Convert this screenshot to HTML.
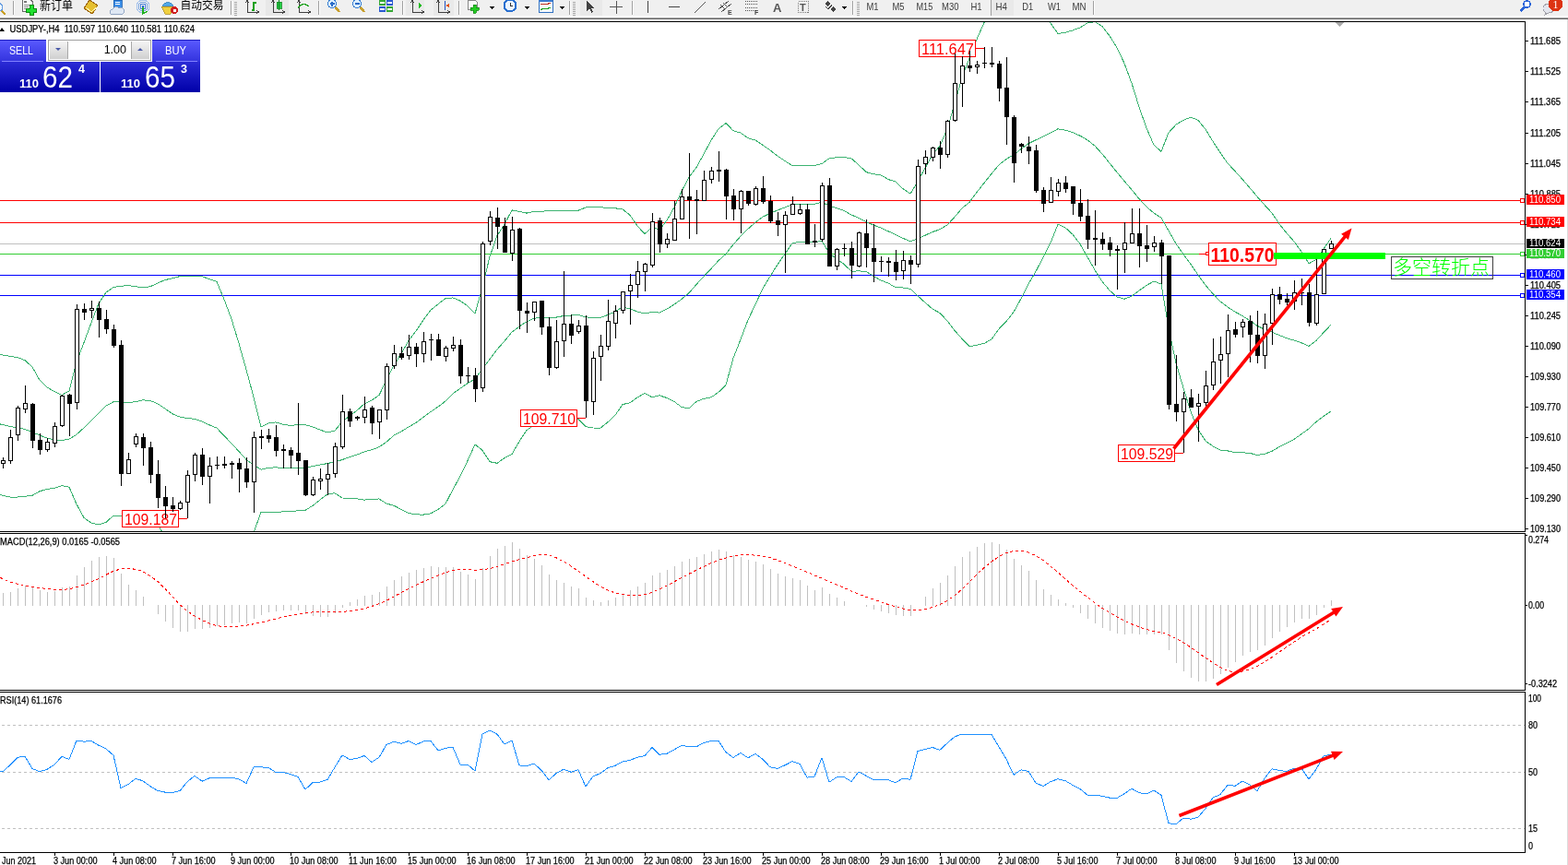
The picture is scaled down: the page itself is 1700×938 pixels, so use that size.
<!DOCTYPE html>
<html><head><meta charset="utf-8"><title>USDJPY-,H4</title>
<style>html,body{margin:0;padding:0;background:#fff;} text.s{stroke:#000;stroke-width:0.25px;} body{width:1700px;height:938px;overflow:hidden;position:relative;}</style>
</head><body>
<svg width="1700" height="938" viewBox="0 0 1700 938" style="position:absolute;left:0;top:0">
<defs><linearGradient id="gTop" x1="0" y1="0" x2="0" y2="1"><stop offset="0" stop-color="#5a5aff"/><stop offset="1" stop-color="#3333dd"/></linearGradient><linearGradient id="gBot" x1="0" y1="0" x2="0" y2="1"><stop offset="0" stop-color="#2b2bd6"/><stop offset="1" stop-color="#0000a8"/></linearGradient><linearGradient id="gBtn" x1="0" y1="0" x2="0" y2="1"><stop offset="0" stop-color="#f4f4f4"/><stop offset="0.5" stop-color="#e2e2e2"/><stop offset="1" stop-color="#cfcfcf"/></linearGradient><clipPath id="cMain"><rect x="0" y="24" width="1653" height="552"/></clipPath><clipPath id="cMacd"><rect x="0" y="579" width="1653" height="169"/></clipPath><clipPath id="cRsi"><rect x="0" y="751" width="1653" height="173"/></clipPath></defs>
<g shape-rendering="crispEdges">
<rect x="0" y="0" width="1700" height="938" fill="#ffffff"/>
<rect x="0" y="0" width="1700" height="19" fill="#f0f0f0"/>
<rect x="0" y="17" width="1700" height="2" fill="#fdfdfd"/>
<rect x="0" y="19" width="1700" height="1" fill="#a4a4a4"/>
<rect x="0" y="20" width="1700" height="1" fill="#676767"/>
<line x1="2" y1="12" x2="6" y2="16" stroke="#c9a028" stroke-width="2.6"/>
<circle cx="-1.5" cy="8" r="4.3" fill="#eef8ff" stroke="#6a9ee0" stroke-width="1.3"/>
<rect x="14" y="1" width="1" height="15" fill="#a0a0a0"/>
<rect x="15" y="1" width="1" height="15" fill="#ffffff"/>
<path d="M24.5,-1 L32.5,-1 L35.5,2 L35.5,12.5 L25.5,12.5 Q24.5,12.5 24.5,11.5 Z" fill="#fdfdfd" stroke="#6a6a6a" stroke-width="1"/>
<rect x="26" y="1" width="3" height="2" fill="#777"/><rect x="26" y="5" width="6" height="1" fill="#888"/><rect x="26" y="7" width="5" height="1" fill="#888"/><rect x="26" y="9" width="2" height="1" fill="#888"/>
<path d="M32.5,5.5 h3.5 v4 h3.5 v3.5 h-3.5 v3.5 h-3.5 v-3.5 h-4 v-3.5 h4 z" fill="#20e030" stroke="#0a8a10" stroke-width="1"/>
<text x="43" y="9.5" font-size="13" font-family='"Liberation Sans", "Noto Sans CJK SC", sans-serif' fill="#000" textLength="36" lengthAdjust="spacingAndGlyphs">新订单</text>
<path d="M91,9 L97,0 L106,6 L100,15 Z" fill="#e6c030" stroke="#a06a10" stroke-width="1"/>
<path d="M93,8 L99,13 L106,7" fill="none" stroke="#fff2b0" stroke-width="1"/>
<rect x="123" y="0" width="9" height="8" fill="#3a8ee8" stroke="#1a5fb0" stroke-width="0.8"/>
<rect x="125" y="2" width="5" height="1" fill="#fff"/><rect x="125" y="4" width="5" height="1" fill="#fff"/>
<path d="M120,15 a3,3 0 0 1 2,-5 a4,4 0 0 1 7,-1 a3,3 0 0 1 5,3 a2,2 0 0 1 -1,3 Z" fill="#dfe8f4" stroke="#8aa0c0" stroke-width="0.9"/>
<circle cx="155" cy="7" r="7" fill="none" stroke="#a8c4ec" stroke-width="1"/>
<circle cx="155" cy="7" r="5" fill="none" stroke="#7aa4e0" stroke-width="1"/>
<circle cx="155" cy="7" r="3" fill="none" stroke="#4a80d8" stroke-width="1"/>
<circle cx="155" cy="7" r="1.5" fill="#2060d0"/>
<path d="M155,8 L155,15 L160,12" fill="none" stroke="#20b020" stroke-width="1.3"/>
<path d="M176,6 Q182,-1 188,6 Z" fill="#50a8e8" stroke="#2a7ab8" stroke-width="0.8"/>
<path d="M175,7 L189,7 L185,15 L179,15 Z" fill="#f0d040" stroke="#b09020" stroke-width="0.8"/>
<circle cx="189" cy="11" r="4" fill="#d02020"/><rect x="187.5" y="9.5" width="3" height="3" fill="#fff"/>
<text x="195.5" y="10" font-size="12.5" font-family='"Liberation Sans", "Noto Sans CJK SC", sans-serif' fill="#000" textLength="47" lengthAdjust="spacingAndGlyphs">自动交易</text>
<rect x="250" y="1" width="1" height="15" fill="#a0a0a0"/>
<rect x="251" y="1" width="1" height="15" fill="#ffffff"/>
<rect x="254" y="2" width="3" height="1" fill="#a8a8a8"/>
<rect x="254" y="4" width="3" height="1" fill="#a8a8a8"/>
<rect x="254" y="6" width="3" height="1" fill="#a8a8a8"/>
<rect x="254" y="8" width="3" height="1" fill="#a8a8a8"/>
<rect x="254" y="10" width="3" height="1" fill="#a8a8a8"/>
<rect x="254" y="12" width="3" height="1" fill="#a8a8a8"/>
<rect x="254" y="14" width="3" height="1" fill="#a8a8a8"/>
<rect x="254" y="16" width="3" height="1" fill="#a8a8a8"/>
<path d="M268,1 L268,13 L280,13" fill="none" stroke="#404040" stroke-width="1"/>
<path d="M266,3 L268,0.5 L270,3 M278,11 L280.5,13 L278,15" fill="none" stroke="#404040" stroke-width="1"/>
<path d="M273,11 L275,11 L275,3 L278,3" fill="none" stroke="#18a018" stroke-width="1.3"/>
<rect x="288" y="0" width="25" height="17" fill="#e8e8e8"/>
<path d="M296,1 L296,13 L308,13" fill="none" stroke="#404040" stroke-width="1"/>
<path d="M294,3 L296,0.5 L298,3 M306,11 L308.5,13 L306,15" fill="none" stroke="#404040" stroke-width="1"/>
<rect x="300" y="2" width="5" height="7" fill="#22cc44" stroke="#118822" stroke-width="0.8"/><line x1="302.5" y1="0" x2="302.5" y2="11" stroke="#118822"/>
<path d="M324,1 L324,13 L336,13" fill="none" stroke="#404040" stroke-width="1"/>
<path d="M322,3 L324,0.5 L326,3 M334,11 L336.5,13 L334,15" fill="none" stroke="#404040" stroke-width="1"/>
<path d="M323,9 Q328,1 335,7" fill="none" stroke="#18a018" stroke-width="1.2"/>
<rect x="345" y="1" width="1" height="15" fill="#a0a0a0"/>
<rect x="346" y="1" width="1" height="15" fill="#ffffff"/>
<line x1="363" y1="7" x2="368" y2="13" stroke="#c8a030" stroke-width="2.5"/>
<circle cx="360" cy="4" r="4.5" fill="#dbeeff" stroke="#3c7fd0" stroke-width="1.2"/>
<rect x="357.5" y="3.3" width="5" height="1.4" fill="#2a6cc8"/>
<rect x="359.3" y="1.5" width="1.4" height="5" fill="#2a6cc8"/>
<line x1="390" y1="7" x2="395" y2="13" stroke="#c8a030" stroke-width="2.5"/>
<circle cx="387" cy="4" r="4.5" fill="#dbeeff" stroke="#3c7fd0" stroke-width="1.2"/>
<rect x="384.5" y="3.3" width="5" height="1.4" fill="#2a6cc8"/>
<rect x="411" y="0" width="7" height="6" fill="#36a836"/>
<rect x="412" y="2" width="5" height="2" fill="#ffffff"/>
<rect x="419" y="0" width="7" height="6" fill="#2a5ad0"/>
<rect x="420" y="2" width="5" height="2" fill="#ffffff"/>
<rect x="411" y="7" width="7" height="6" fill="#2a5ad0"/>
<rect x="412" y="9" width="5" height="2" fill="#ffffff"/>
<rect x="419" y="7" width="7" height="6" fill="#36a836"/>
<rect x="420" y="9" width="5" height="2" fill="#ffffff"/>
<rect x="436" y="1" width="1" height="15" fill="#a0a0a0"/>
<rect x="437" y="1" width="1" height="15" fill="#ffffff"/>
<rect x="440" y="0" width="20" height="17" fill="#e9e9e9"/>
<path d="M447,1 L447,13 L459,13" fill="none" stroke="#404040" stroke-width="1"/>
<path d="M445,3 L447,0.5 L449,3 M457,11 L459.5,13 L457,15" fill="none" stroke="#404040" stroke-width="1"/>
<polygon points="454,3 454,9 458,6" fill="#22bb22"/>
<rect x="470" y="0" width="22" height="17" fill="#e9e9e9"/>
<path d="M475,1 L475,13 L487,13" fill="none" stroke="#404040" stroke-width="1"/>
<path d="M473,3 L475,0.5 L477,3 M485,11 L487.5,13 L485,15" fill="none" stroke="#404040" stroke-width="1"/>
<line x1="482" y1="1" x2="482" y2="11" stroke="#2050c0"/><polygon points="483,6 487,4 487,8" fill="#e05010"/>
<rect x="497" y="1" width="1" height="15" fill="#a0a0a0"/>
<rect x="498" y="1" width="1" height="15" fill="#ffffff"/>
<path d="M507,0 L515,0 L517,2 L517,10 L507,10 Z" fill="#fafafa" stroke="#888" stroke-width="1"/>
<path d="M513,5 h3 v3 h3 v3 h-3 v3 h-3 v-3 h-3 v-3 h3 z" fill="#22cc22" stroke="#138a13" stroke-width="0.8"/>
<polygon points="530,7 536,7 533,10" fill="#000"/>
<circle cx="553" cy="6" r="6.5" fill="#eaf4ff" stroke="#2a70d0" stroke-width="2"/>
<path d="M553,2.5 L553,6 L556,6" fill="none" stroke="#333" stroke-width="1"/>
<polygon points="568,7 574,7 571,10" fill="#000"/>
<rect x="584" y="0" width="15" height="13" fill="#f6faff" stroke="#3070c0" stroke-width="1"/>
<rect x="584" y="0" width="15" height="2" fill="#3a7ad0"/>
<path d="M586,5 L589,4 L592,5 L597,3" fill="none" stroke="#c03020" stroke-width="1"/><path d="M586,11 L589,9 L592,10 L597,8" fill="none" stroke="#20a020" stroke-width="1"/>
<polygon points="606,7 612,7 609,10" fill="#000"/>
<rect x="617" y="1" width="1" height="15" fill="#a0a0a0"/>
<rect x="618" y="1" width="1" height="15" fill="#ffffff"/>
<rect x="621" y="2" width="3" height="1" fill="#a8a8a8"/>
<rect x="621" y="4" width="3" height="1" fill="#a8a8a8"/>
<rect x="621" y="6" width="3" height="1" fill="#a8a8a8"/>
<rect x="621" y="8" width="3" height="1" fill="#a8a8a8"/>
<rect x="621" y="10" width="3" height="1" fill="#a8a8a8"/>
<rect x="621" y="12" width="3" height="1" fill="#a8a8a8"/>
<rect x="621" y="14" width="3" height="1" fill="#a8a8a8"/>
<rect x="621" y="16" width="3" height="1" fill="#a8a8a8"/>
<rect x="629" y="0" width="24" height="17" fill="#e9e9e9"/>
<path d="M636,1 L636,12 L639,9.5 L641.5,14 L643,13 L641,8.5 L644.5,8.5 Z" fill="#404040"/>
<path d="M668,1 L668,15 M661,7.5 L675,7.5" stroke="#555" stroke-width="1"/>
<rect x="685" y="1" width="1" height="15" fill="#a0a0a0"/>
<rect x="686" y="1" width="1" height="15" fill="#ffffff"/>
<line x1="702.5" y1="1" x2="702.5" y2="14" stroke="#444"/>
<line x1="725" y1="7.5" x2="737" y2="7.5" stroke="#444"/>
<line x1="753" y1="14" x2="765" y2="2" stroke="#555"/>
<path d="M779,10 L790,1 M782,13 L793,4 M781,5 L786,10 M784,3 L789,8" stroke="#555" stroke-width="1"/>
<text x="789" y="16" font-size="7" font-weight="bold" font-family='"Liberation Sans", "Noto Sans CJK SC", sans-serif' fill="#444">E</text>
<line x1="808" y1="1.5" x2="821" y2="1.5" stroke="#555" stroke-dasharray="1,1"/>
<line x1="808" y1="4.5" x2="821" y2="4.5" stroke="#555" stroke-dasharray="1,1"/>
<line x1="808" y1="8.5" x2="821" y2="8.5" stroke="#555" stroke-dasharray="1,1"/>
<line x1="808" y1="11.5" x2="821" y2="11.5" stroke="#555" stroke-dasharray="1,1"/>
<text x="818" y="16" font-size="7" font-weight="bold" font-family='"Liberation Sans", "Noto Sans CJK SC", sans-serif' fill="#444">F</text>
<text x="838" y="13" font-size="13" font-weight="bold" font-family='"Liberation Sans", "Noto Sans CJK SC", sans-serif' fill="#555">A</text>
<rect x="865.5" y="1.5" width="11" height="12" fill="none" stroke="#777" stroke-dasharray="1,1"/>
<text x="867" y="12" font-size="11" font-weight="bold" font-family='"Liberation Sans", "Noto Sans CJK SC", sans-serif' fill="#555">T</text>
<path d="M894,4 L897,1 L900,4 L897,7 Z M900,10 L903,7 L906,10 L903,13 Z" fill="#444"/><path d="M895,7 L898,10 L902,5" fill="none" stroke="#444" stroke-width="1.3"/>
<polygon points="912,7 918,7 915,10" fill="#000"/>
<rect x="924" y="1" width="1" height="15" fill="#a0a0a0"/>
<rect x="925" y="1" width="1" height="15" fill="#ffffff"/>
<rect x="929" y="2" width="3" height="1" fill="#a8a8a8"/>
<rect x="929" y="4" width="3" height="1" fill="#a8a8a8"/>
<rect x="929" y="6" width="3" height="1" fill="#a8a8a8"/>
<rect x="929" y="8" width="3" height="1" fill="#a8a8a8"/>
<rect x="929" y="10" width="3" height="1" fill="#a8a8a8"/>
<rect x="929" y="12" width="3" height="1" fill="#a8a8a8"/>
<rect x="929" y="14" width="3" height="1" fill="#a8a8a8"/>
<rect x="929" y="16" width="3" height="1" fill="#a8a8a8"/>
<rect x="1074" y="0" width="1" height="17" fill="#a0a0a0"/>
<rect x="1075" y="0" width="24" height="17" fill="#e9e9e9"/>
<text x="939.5" y="11" font-size="11" font-family='"Liberation Sans", "Noto Sans CJK SC", sans-serif' fill="#3a3a3a" textLength="13" lengthAdjust="spacingAndGlyphs">M1</text>
<text x="967.5" y="11" font-size="11" font-family='"Liberation Sans", "Noto Sans CJK SC", sans-serif' fill="#3a3a3a" textLength="13" lengthAdjust="spacingAndGlyphs">M5</text>
<text x="993.5" y="11" font-size="11" font-family='"Liberation Sans", "Noto Sans CJK SC", sans-serif' fill="#3a3a3a" textLength="17.7" lengthAdjust="spacingAndGlyphs">M15</text>
<text x="1021" y="11" font-size="11" font-family='"Liberation Sans", "Noto Sans CJK SC", sans-serif' fill="#3a3a3a" textLength="18.4" lengthAdjust="spacingAndGlyphs">M30</text>
<text x="1052.5" y="11" font-size="11" font-family='"Liberation Sans", "Noto Sans CJK SC", sans-serif' fill="#3a3a3a" textLength="12.1" lengthAdjust="spacingAndGlyphs">H1</text>
<text x="1079.5" y="11" font-size="11" font-family='"Liberation Sans", "Noto Sans CJK SC", sans-serif' fill="#3a3a3a" textLength="12.4" lengthAdjust="spacingAndGlyphs">H4</text>
<text x="1108.2" y="11" font-size="11" font-family='"Liberation Sans", "Noto Sans CJK SC", sans-serif' fill="#3a3a3a" textLength="12" lengthAdjust="spacingAndGlyphs">D1</text>
<text x="1136" y="11" font-size="11" font-family='"Liberation Sans", "Noto Sans CJK SC", sans-serif' fill="#3a3a3a" textLength="14.1" lengthAdjust="spacingAndGlyphs">W1</text>
<text x="1162.5" y="11" font-size="11" font-family='"Liberation Sans", "Noto Sans CJK SC", sans-serif' fill="#3a3a3a" textLength="15" lengthAdjust="spacingAndGlyphs">MN</text>
<rect x="1185" y="1" width="1" height="15" fill="#a0a0a0"/>
<rect x="1186" y="1" width="1" height="15" fill="#ffffff"/>
<circle cx="1655.5" cy="4.5" r="3.6" fill="#fff" stroke="#2a64d8" stroke-width="1.5"/>
<line x1="1653" y1="7.5" x2="1648.5" y2="12" stroke="#2a64d8" stroke-width="2.4"/>
<path d="M1673,10 a6,5 0 1 1 5,4 l-3,2 l0.5,-2.5 a6,5 0 0 1 -2.5,-3.5z" fill="#e4e6ee" stroke="#a0a0a8" stroke-width="1"/>
<circle cx="1686.5" cy="4.5" r="7.7" fill="#dd3311"/>
<text x="1686.5" y="8.5" font-size="12" font-family='"Liberation Serif", serif' fill="#fff" text-anchor="middle">1</text>
</g>
<g shape-rendering="crispEdges">
<rect x="0" y="23" width="1654" height="1" fill="#000"/>
<rect x="0" y="576" width="1654" height="1" fill="#000"/>
<rect x="1653" y="23" width="1" height="554" fill="#000"/>
<rect x="0" y="578" width="1654" height="1" fill="#000"/>
<rect x="0" y="748" width="1654" height="1" fill="#000"/>
<rect x="1653" y="578" width="1" height="171" fill="#000"/>
<rect x="0" y="750" width="1654" height="1" fill="#000"/>
<rect x="0" y="924" width="1654" height="1" fill="#000"/>
<rect x="1653" y="750" width="1" height="175" fill="#000"/>
<rect x="1699" y="21" width="1" height="917" fill="#dcdcdc"/>
<rect x="1654" y="44" width="3" height="1" fill="#000"/>
<text class="s" x="1659" y="48" font-size="10" font-family='"Liberation Sans", "Noto Sans CJK SC", sans-serif' fill="#000" textLength="33" lengthAdjust="spacingAndGlyphs">111.685</text>
<rect x="1654" y="77" width="3" height="1" fill="#000"/>
<text class="s" x="1659" y="81" font-size="10" font-family='"Liberation Sans", "Noto Sans CJK SC", sans-serif' fill="#000" textLength="33" lengthAdjust="spacingAndGlyphs">111.525</text>
<rect x="1654" y="110" width="3" height="1" fill="#000"/>
<text class="s" x="1659" y="114" font-size="10" font-family='"Liberation Sans", "Noto Sans CJK SC", sans-serif' fill="#000" textLength="33" lengthAdjust="spacingAndGlyphs">111.365</text>
<rect x="1654" y="144" width="3" height="1" fill="#000"/>
<text class="s" x="1659" y="148" font-size="10" font-family='"Liberation Sans", "Noto Sans CJK SC", sans-serif' fill="#000" textLength="33" lengthAdjust="spacingAndGlyphs">111.205</text>
<rect x="1654" y="177" width="3" height="1" fill="#000"/>
<text class="s" x="1659" y="181" font-size="10" font-family='"Liberation Sans", "Noto Sans CJK SC", sans-serif' fill="#000" textLength="33" lengthAdjust="spacingAndGlyphs">111.045</text>
<rect x="1654" y="210" width="3" height="1" fill="#000"/>
<text class="s" x="1659" y="214" font-size="10" font-family='"Liberation Sans", "Noto Sans CJK SC", sans-serif' fill="#000" textLength="33" lengthAdjust="spacingAndGlyphs">110.885</text>
<rect x="1654" y="243" width="3" height="1" fill="#000"/>
<text class="s" x="1659" y="247" font-size="10" font-family='"Liberation Sans", "Noto Sans CJK SC", sans-serif' fill="#000" textLength="33" lengthAdjust="spacingAndGlyphs">110.725</text>
<rect x="1654" y="276" width="3" height="1" fill="#000"/>
<text class="s" x="1659" y="280" font-size="10" font-family='"Liberation Sans", "Noto Sans CJK SC", sans-serif' fill="#000" textLength="33" lengthAdjust="spacingAndGlyphs">110.565</text>
<rect x="1654" y="309" width="3" height="1" fill="#000"/>
<text class="s" x="1659" y="313" font-size="10" font-family='"Liberation Sans", "Noto Sans CJK SC", sans-serif' fill="#000" textLength="33" lengthAdjust="spacingAndGlyphs">110.405</text>
<rect x="1654" y="342" width="3" height="1" fill="#000"/>
<text class="s" x="1659" y="346" font-size="10" font-family='"Liberation Sans", "Noto Sans CJK SC", sans-serif' fill="#000" textLength="33" lengthAdjust="spacingAndGlyphs">110.245</text>
<rect x="1654" y="375" width="3" height="1" fill="#000"/>
<text class="s" x="1659" y="379" font-size="10" font-family='"Liberation Sans", "Noto Sans CJK SC", sans-serif' fill="#000" textLength="33" lengthAdjust="spacingAndGlyphs">110.090</text>
<rect x="1654" y="408" width="3" height="1" fill="#000"/>
<text class="s" x="1659" y="412" font-size="10" font-family='"Liberation Sans", "Noto Sans CJK SC", sans-serif' fill="#000" textLength="33" lengthAdjust="spacingAndGlyphs">109.930</text>
<rect x="1654" y="441" width="3" height="1" fill="#000"/>
<text class="s" x="1659" y="445" font-size="10" font-family='"Liberation Sans", "Noto Sans CJK SC", sans-serif' fill="#000" textLength="33" lengthAdjust="spacingAndGlyphs">109.770</text>
<rect x="1654" y="474" width="3" height="1" fill="#000"/>
<text class="s" x="1659" y="478" font-size="10" font-family='"Liberation Sans", "Noto Sans CJK SC", sans-serif' fill="#000" textLength="33" lengthAdjust="spacingAndGlyphs">109.610</text>
<rect x="1654" y="507" width="3" height="1" fill="#000"/>
<text class="s" x="1659" y="511" font-size="10" font-family='"Liberation Sans", "Noto Sans CJK SC", sans-serif' fill="#000" textLength="33" lengthAdjust="spacingAndGlyphs">109.450</text>
<rect x="1654" y="540" width="3" height="1" fill="#000"/>
<text class="s" x="1659" y="544" font-size="10" font-family='"Liberation Sans", "Noto Sans CJK SC", sans-serif' fill="#000" textLength="33" lengthAdjust="spacingAndGlyphs">109.290</text>
<rect x="1654" y="573" width="3" height="1" fill="#000"/>
<text class="s" x="1659" y="577" font-size="10" font-family='"Liberation Sans", "Noto Sans CJK SC", sans-serif' fill="#000" textLength="33" lengthAdjust="spacingAndGlyphs">109.130</text>
</g>
<g clip-path="url(#cMain)" shape-rendering="crispEdges">
<rect x="0" y="264" width="1653" height="1" fill="#c0c0c0"/>
<rect x="0" y="217" width="1653" height="1" fill="#ff0000"/>
<rect x="1648.5" y="215.5" width="4" height="4" fill="#fff" stroke="#ff0000" stroke-width="1"/>
<rect x="0" y="241" width="1653" height="1" fill="#ff0000"/>
<rect x="1648.5" y="239.5" width="4" height="4" fill="#fff" stroke="#ff0000" stroke-width="1"/>
<rect x="0" y="275" width="1653" height="1" fill="#32cd32"/>
<rect x="1648.5" y="273.5" width="4" height="4" fill="#fff" stroke="#32cd32" stroke-width="1"/>
<rect x="0" y="298" width="1653" height="1" fill="#0000ff"/>
<rect x="1648.5" y="296.5" width="4" height="4" fill="#fff" stroke="#0000ff" stroke-width="1"/>
<rect x="0" y="320" width="1653" height="1" fill="#0000ff"/>
<rect x="1648.5" y="318.5" width="4" height="4" fill="#fff" stroke="#0000ff" stroke-width="1"/>
</g>
<g shape-rendering="crispEdges">
<rect x="1655" y="211" width="41" height="11" fill="#ff0000"/>
<text x="1658" y="220" font-size="10" font-family='"Liberation Sans", "Noto Sans CJK SC", sans-serif' fill="#fff" textLength="34" lengthAdjust="spacingAndGlyphs">110.850</text>
<rect x="1655" y="235" width="41" height="11" fill="#ff0000"/>
<text x="1658" y="244" font-size="10" font-family='"Liberation Sans", "Noto Sans CJK SC", sans-serif' fill="#fff" textLength="34" lengthAdjust="spacingAndGlyphs">110.734</text>
<rect x="1655" y="259" width="41" height="10" fill="#000000"/>
<text x="1658" y="267" font-size="10" font-family='"Liberation Sans", "Noto Sans CJK SC", sans-serif' fill="#fff" textLength="34" lengthAdjust="spacingAndGlyphs">110.624</text>
<rect x="1655" y="270" width="41" height="10" fill="#32cd32"/>
<text x="1658" y="278" font-size="10" font-family='"Liberation Sans", "Noto Sans CJK SC", sans-serif' fill="#fff" textLength="34" lengthAdjust="spacingAndGlyphs">110.570</text>
<rect x="1655" y="292" width="41" height="11" fill="#0000ff"/>
<text x="1658" y="301" font-size="10" font-family='"Liberation Sans", "Noto Sans CJK SC", sans-serif' fill="#fff" textLength="34" lengthAdjust="spacingAndGlyphs">110.460</text>
<rect x="1655" y="314" width="41" height="11" fill="#0000ff"/>
<text x="1658" y="323" font-size="10" font-family='"Liberation Sans", "Noto Sans CJK SC", sans-serif' fill="#fff" textLength="34" lengthAdjust="spacingAndGlyphs">110.354</text>
</g>
<g clip-path="url(#cMain)">
<polyline points="0.0,384.5 3.0,385.0 11.0,386.3 19.0,387.6 27.0,390.7 35.0,398.0 43.0,412.2 51.0,420.0 59.0,424.6 67.0,428.4 75.0,424.0 83.0,392.7 91.0,371.5 99.0,349.9 107.0,329.0 115.0,317.1 123.0,311.5 131.0,310.3 139.0,309.5 147.0,310.7 155.0,311.8 163.0,310.8 171.0,306.9 179.0,303.6 187.0,301.7 195.0,299.6 203.0,299.2 211.0,299.3 219.0,299.7 227.0,302.7 235.0,305.4 243.0,324.6 251.0,346.0 259.0,372.4 267.0,400.9 275.0,430.6 283.0,463.2 291.0,459.0 299.0,457.9 307.0,460.3 315.0,461.4 323.0,460.6 331.0,460.8 339.0,462.9 347.0,466.1 355.0,469.1 363.0,467.1 371.0,457.2 379.0,451.1 387.0,445.1 395.0,437.9 403.0,434.2 411.0,428.5 419.0,412.3 427.0,396.3 435.0,383.4 443.0,369.6 451.0,358.9 459.0,346.9 467.0,336.2 475.0,329.8 483.0,323.7 491.0,322.9 499.0,326.2 507.0,331.7 515.0,340.1 523.0,311.7 531.0,278.2 539.0,255.5 547.0,243.2 555.0,227.9 563.0,229.4 571.0,231.1 579.0,229.4 587.0,229.1 595.0,228.8 603.0,228.8 611.0,228.5 619.0,228.4 627.0,228.2 635.0,225.0 643.0,224.8 651.0,224.8 659.0,225.3 667.0,225.8 675.0,226.9 683.0,233.3 691.0,244.9 699.0,253.7 707.0,245.9 715.0,249.4 723.0,239.0 731.0,224.8 739.0,207.4 747.0,192.3 755.0,181.6 763.0,167.1 771.0,152.0 779.0,139.8 787.0,133.5 795.0,141.8 803.0,144.1 811.0,149.7 819.0,152.1 827.0,157.4 835.0,162.9 843.0,169.2 851.0,174.5 859.0,179.7 867.0,179.8 875.0,179.8 883.0,179.5 891.0,177.5 899.0,171.8 907.0,170.8 915.0,170.4 923.0,171.8 931.0,178.8 939.0,186.6 947.0,188.7 955.0,189.8 963.0,194.5 971.0,197.1 979.0,204.7 987.0,210.2 995.0,196.7 1003.0,182.2 1011.0,167.9 1019.0,158.2 1027.0,140.1 1035.0,112.2 1043.0,84.2 1051.0,63.1 1059.0,42.7 1067.0,24.4 1075.0,8.9 1083.0,0.9 1091.0,-3.5 1099.0,-2.6 1107.0,-0.5 1115.0,3.3 1123.0,9.1 1131.0,17.0 1139.0,25.1 1147.0,36.5 1155.0,35.3 1163.0,32.9 1171.0,29.9 1179.0,25.0 1187.0,23.6 1195.0,28.6 1203.0,38.9 1211.0,51.7 1219.0,68.7 1227.0,90.3 1235.0,116.0 1243.0,139.0 1251.0,157.2 1259.0,164.3 1267.0,143.8 1275.0,135.2 1283.0,130.4 1291.0,127.1 1299.0,130.4 1307.0,140.3 1315.0,153.3 1323.0,165.6 1331.0,177.1 1339.0,185.6 1347.0,194.5 1355.0,203.7 1363.0,213.2 1371.0,222.3 1379.0,230.9 1387.0,242.8 1395.0,252.9 1403.0,261.8 1411.0,273.0 1419.0,285.8 1427.0,281.5 1435.0,269.9 1443.0,258.5" fill="none" stroke="#3cb371" stroke-width="1" shape-rendering="crispEdges"/>
<polyline points="0.0,459.9 3.0,460.6 11.0,462.6 19.0,463.8 27.0,465.5 35.0,468.6 43.0,472.0 51.0,475.1 59.0,477.1 67.0,477.4 75.0,476.2 83.0,471.2 91.0,463.9 99.0,455.9 107.0,447.9 115.0,440.0 123.0,435.8 131.0,435.8 139.0,436.8 147.0,435.6 155.0,433.8 163.0,434.5 171.0,437.8 179.0,443.1 187.0,448.8 195.0,452.1 203.0,453.6 211.0,454.2 219.0,456.9 227.0,460.8 235.0,464.1 243.0,472.6 251.0,480.8 259.0,489.5 267.0,498.3 275.0,504.2 283.0,509.2 291.0,507.3 299.0,506.8 307.0,507.6 315.0,507.9 323.0,507.2 331.0,507.1 339.0,505.6 347.0,504.1 355.0,502.5 363.0,500.9 371.0,498.6 379.0,495.6 387.0,493.0 395.0,490.0 403.0,487.7 411.0,484.8 419.0,479.2 427.0,472.2 435.0,467.9 443.0,463.0 451.0,458.4 459.0,452.5 467.0,446.5 475.0,441.1 483.0,435.0 491.0,426.9 499.0,421.2 507.0,415.6 515.0,411.0 523.0,400.0 531.0,389.4 539.0,378.9 547.0,369.9 555.0,360.1 563.0,354.1 571.0,348.8 579.0,345.3 587.0,343.9 595.0,344.4 603.0,344.1 611.0,342.5 619.0,342.1 627.0,341.4 635.0,343.9 643.0,344.4 651.0,344.4 659.0,341.5 667.0,338.0 675.0,332.8 683.0,335.0 691.0,337.9 699.0,340.0 707.0,338.4 715.0,339.1 723.0,335.2 731.0,330.1 739.0,324.4 747.0,317.6 755.0,308.5 763.0,299.8 771.0,291.4 779.0,282.6 787.0,275.5 795.0,265.1 803.0,256.1 811.0,248.3 819.0,241.1 827.0,235.2 835.0,231.3 843.0,228.0 851.0,224.9 859.0,221.7 867.0,221.1 875.0,221.1 883.0,221.2 891.0,219.3 899.0,223.1 907.0,225.8 915.0,228.4 923.0,233.0 931.0,236.3 939.0,240.5 947.0,244.1 955.0,246.9 963.0,250.8 971.0,254.4 979.0,258.4 987.0,261.8 995.0,258.8 1003.0,255.2 1011.0,251.5 1019.0,248.8 1027.0,244.0 1035.0,235.3 1043.0,225.8 1051.0,219.4 1059.0,208.5 1067.0,198.4 1075.0,188.4 1083.0,178.8 1091.0,172.5 1099.0,167.9 1107.0,161.7 1115.0,155.7 1123.0,151.8 1131.0,148.1 1139.0,144.2 1147.0,139.8 1155.0,141.1 1163.0,143.6 1171.0,147.2 1179.0,151.8 1187.0,158.2 1195.0,166.9 1203.0,176.9 1211.0,186.8 1219.0,196.4 1227.0,205.7 1235.0,215.6 1243.0,224.2 1251.0,231.1 1259.0,236.2 1267.0,250.2 1275.0,264.3 1283.0,275.6 1291.0,286.6 1299.0,298.2 1307.0,309.2 1315.0,318.6 1323.0,326.8 1331.0,333.0 1339.0,338.1 1347.0,342.6 1355.0,347.6 1363.0,353.3 1371.0,357.3 1379.0,360.1 1387.0,363.6 1395.0,366.7 1403.0,369.1 1411.0,371.8 1419.0,375.4 1427.0,369.4 1435.0,360.6 1443.0,352.2" fill="none" stroke="#3cb371" stroke-width="1" shape-rendering="crispEdges"/>
<polyline points="0.0,536.5 3.0,537.4 11.0,539.0 19.0,539.0 27.0,538.2 35.0,537.3 43.0,532.7 51.0,530.5 59.0,529.2 67.0,526.6 75.0,528.2 83.0,546.8 91.0,561.4 99.0,567.2 107.0,568.9 115.0,566.4 123.0,559.0 131.0,559.6 139.0,558.2 147.0,556.6 155.0,555.7 163.0,558.2 171.0,568.6 179.0,582.5 187.0,595.8 195.0,604.7 203.0,607.9 211.0,609.2 219.0,614.2 227.0,618.8 235.0,622.8 243.0,620.5 251.0,615.6 259.0,606.6 267.0,595.7 275.0,577.8 283.0,555.2 291.0,555.6 299.0,555.7 307.0,554.8 315.0,554.5 323.0,553.8 331.0,553.3 339.0,548.4 347.0,542.0 355.0,535.9 363.0,534.8 371.0,540.0 379.0,540.1 387.0,540.9 395.0,542.1 403.0,541.2 411.0,541.0 419.0,546.1 427.0,548.2 435.0,552.4 443.0,556.4 451.0,557.9 459.0,558.1 467.0,556.8 475.0,552.4 483.0,546.3 491.0,530.9 499.0,516.3 507.0,499.6 515.0,481.9 523.0,488.3 531.0,500.7 539.0,502.3 547.0,496.6 555.0,492.4 563.0,478.7 571.0,466.5 579.0,461.2 587.0,458.6 595.0,460.0 603.0,459.4 611.0,456.5 619.0,455.9 627.0,454.6 635.0,462.7 643.0,464.0 651.0,464.1 659.0,457.7 667.0,450.2 675.0,438.6 683.0,436.7 691.0,431.0 699.0,426.3 707.0,430.8 715.0,428.8 723.0,431.5 731.0,435.5 739.0,441.5 747.0,442.8 755.0,435.4 763.0,432.4 771.0,430.9 779.0,425.3 787.0,417.5 795.0,388.4 803.0,368.0 811.0,346.9 819.0,330.1 827.0,312.9 835.0,299.7 843.0,286.8 851.0,275.4 859.0,263.7 867.0,262.3 875.0,262.3 883.0,262.8 891.0,261.2 899.0,274.4 907.0,280.8 915.0,286.4 923.0,294.2 931.0,293.9 939.0,294.4 947.0,299.4 955.0,304.0 963.0,307.0 971.0,311.8 979.0,312.0 987.0,313.3 995.0,320.9 1003.0,328.1 1011.0,335.1 1019.0,339.4 1027.0,347.9 1035.0,358.4 1043.0,367.4 1051.0,375.7 1059.0,374.3 1067.0,372.4 1075.0,367.9 1083.0,356.7 1091.0,348.5 1099.0,338.4 1107.0,323.8 1115.0,308.0 1123.0,294.4 1131.0,279.1 1139.0,263.4 1147.0,243.2 1155.0,246.8 1163.0,254.2 1171.0,264.6 1179.0,278.7 1187.0,292.9 1195.0,305.3 1203.0,314.9 1211.0,321.9 1219.0,324.2 1227.0,321.1 1235.0,315.1 1243.0,309.5 1251.0,305.0 1259.0,308.0 1267.0,356.5 1275.0,393.4 1283.0,420.8 1291.0,446.2 1299.0,466.0 1307.0,478.1 1315.0,483.9 1323.0,488.0 1331.0,488.9 1339.0,490.7 1347.0,490.8 1355.0,491.4 1363.0,493.4 1371.0,492.3 1379.0,489.3 1387.0,484.5 1395.0,480.5 1403.0,476.4 1411.0,470.6 1419.0,465.0 1427.0,457.4 1435.0,451.4 1443.0,446.0" fill="none" stroke="#3cb371" stroke-width="1" shape-rendering="crispEdges"/>
</g>
<g shape-rendering="crispEdges">
<rect x="996.5" y="43.5" width="61" height="18" fill="#fff" stroke="#ff0000" stroke-width="1"/>
<rect x="1058" y="52" width="9" height="1" fill="#ff0000"/>
</g>
<text x="999" y="59" font-size="16.5" font-family='"Liberation Sans", "Noto Sans CJK SC", sans-serif' fill="#ff0000" textLength="57" lengthAdjust="spacingAndGlyphs">111.647</text>
<g shape-rendering="crispEdges">
<rect x="132.5" y="553.5" width="61" height="18" fill="#fff" stroke="#ff0000" stroke-width="1"/>
<rect x="194" y="562" width="9" height="1" fill="#ff0000"/>
</g>
<text x="135" y="569" font-size="16.5" font-family='"Liberation Sans", "Noto Sans CJK SC", sans-serif' fill="#ff0000" textLength="57" lengthAdjust="spacingAndGlyphs">109.187</text>
<g shape-rendering="crispEdges">
<rect x="564.5" y="444.5" width="61" height="18" fill="#fff" stroke="#ff0000" stroke-width="1"/>
<rect x="626" y="453" width="9" height="1" fill="#ff0000"/>
</g>
<text x="567" y="460" font-size="16.5" font-family='"Liberation Sans", "Noto Sans CJK SC", sans-serif' fill="#ff0000" textLength="57" lengthAdjust="spacingAndGlyphs">109.710</text>
<g shape-rendering="crispEdges">
<rect x="1212.5" y="482.5" width="61" height="18" fill="#fff" stroke="#ff0000" stroke-width="1"/>
<rect x="1274" y="491" width="9" height="1" fill="#ff0000"/>
</g>
<text x="1215" y="498" font-size="16.5" font-family='"Liberation Sans", "Noto Sans CJK SC", sans-serif' fill="#ff0000" textLength="57" lengthAdjust="spacingAndGlyphs">109.529</text>
<g shape-rendering="crispEdges">
<rect x="1300" y="275" width="8" height="1" fill="#ff0000"/>
<rect x="1307.5" y="273.5" width="3" height="3" fill="#fff" stroke="#ff0000"/>
<rect x="1310.5" y="263.5" width="73" height="24" fill="#fff" stroke="#ff0000" stroke-width="1"/>
</g>
<text x="1312.5" y="284" font-size="22" font-family='"Liberation Sans", "Noto Sans CJK SC", sans-serif' fill="#ff0000" font-weight="bold" textLength="69" lengthAdjust="spacingAndGlyphs">110.570</text>
<g clip-path="url(#cMain)" shape-rendering="crispEdges">
<rect x="3" y="496" width="1" height="12" fill="#000"/>
<rect x="1" y="499" width="5" height="4" fill="#000"/>
<rect x="2" y="500" width="3" height="2" fill="#fff"/>
<rect x="11" y="466" width="1" height="37" fill="#000"/>
<rect x="9" y="474" width="5" height="26" fill="#000"/>
<rect x="10" y="475" width="3" height="24" fill="#fff"/>
<rect x="19" y="440" width="1" height="38" fill="#000"/>
<rect x="17" y="442" width="5" height="30" fill="#000"/>
<rect x="18" y="443" width="3" height="28" fill="#fff"/>
<rect x="27" y="418" width="1" height="30" fill="#000"/>
<rect x="25" y="437" width="5" height="7" fill="#000"/>
<rect x="26" y="438" width="3" height="5" fill="#fff"/>
<rect x="35" y="437" width="1" height="49" fill="#000"/>
<rect x="33" y="438" width="5" height="40" fill="#000"/>
<rect x="43" y="470" width="1" height="23" fill="#000"/>
<rect x="41" y="477" width="5" height="11" fill="#000"/>
<rect x="51" y="475" width="1" height="15" fill="#000"/>
<rect x="49" y="479" width="5" height="9" fill="#000"/>
<rect x="50" y="480" width="3" height="7" fill="#fff"/>
<rect x="59" y="458" width="1" height="27" fill="#000"/>
<rect x="57" y="462" width="5" height="19" fill="#000"/>
<rect x="58" y="463" width="3" height="17" fill="#fff"/>
<rect x="67" y="428" width="1" height="35" fill="#000"/>
<rect x="65" y="429" width="5" height="33" fill="#000"/>
<rect x="66" y="430" width="3" height="31" fill="#fff"/>
<rect x="75" y="427" width="1" height="46" fill="#000"/>
<rect x="73" y="428" width="5" height="10" fill="#000"/>
<rect x="83" y="330" width="1" height="114" fill="#000"/>
<rect x="81" y="335" width="5" height="102" fill="#000"/>
<rect x="82" y="336" width="3" height="100" fill="#fff"/>
<rect x="91" y="329" width="1" height="18" fill="#000"/>
<rect x="89" y="335" width="5" height="4" fill="#000"/>
<rect x="99" y="326" width="1" height="19" fill="#000"/>
<rect x="97" y="334" width="5" height="3" fill="#000"/>
<rect x="98" y="335" width="3" height="1" fill="#fff"/>
<rect x="107" y="327" width="1" height="39" fill="#000"/>
<rect x="105" y="334" width="5" height="13" fill="#000"/>
<rect x="115" y="336" width="1" height="26" fill="#000"/>
<rect x="113" y="346" width="5" height="11" fill="#000"/>
<rect x="123" y="352" width="1" height="25" fill="#000"/>
<rect x="121" y="357" width="5" height="18" fill="#000"/>
<rect x="131" y="369" width="1" height="158" fill="#000"/>
<rect x="129" y="374" width="5" height="140" fill="#000"/>
<rect x="139" y="491" width="1" height="23" fill="#000"/>
<rect x="137" y="498" width="5" height="16" fill="#000"/>
<rect x="138" y="499" width="3" height="14" fill="#fff"/>
<rect x="147" y="470" width="1" height="15" fill="#000"/>
<rect x="145" y="473" width="5" height="9" fill="#000"/>
<rect x="146" y="474" width="3" height="7" fill="#fff"/>
<rect x="155" y="470" width="1" height="35" fill="#000"/>
<rect x="153" y="474" width="5" height="12" fill="#000"/>
<rect x="163" y="479" width="1" height="45" fill="#000"/>
<rect x="161" y="485" width="5" height="30" fill="#000"/>
<rect x="171" y="499" width="1" height="52" fill="#000"/>
<rect x="169" y="514" width="5" height="26" fill="#000"/>
<rect x="179" y="527" width="1" height="35" fill="#000"/>
<rect x="177" y="539" width="5" height="10" fill="#000"/>
<rect x="187" y="539" width="1" height="16" fill="#000"/>
<rect x="185" y="548" width="5" height="4" fill="#000"/>
<rect x="195" y="543" width="1" height="10" fill="#000"/>
<rect x="193" y="545" width="5" height="7" fill="#000"/>
<rect x="194" y="546" width="3" height="5" fill="#fff"/>
<rect x="203" y="510" width="1" height="52" fill="#000"/>
<rect x="201" y="515" width="5" height="30" fill="#000"/>
<rect x="202" y="516" width="3" height="28" fill="#fff"/>
<rect x="211" y="491" width="1" height="31" fill="#000"/>
<rect x="209" y="493" width="5" height="22" fill="#000"/>
<rect x="210" y="494" width="3" height="20" fill="#fff"/>
<rect x="219" y="486" width="1" height="40" fill="#000"/>
<rect x="217" y="493" width="5" height="24" fill="#000"/>
<rect x="227" y="496" width="1" height="50" fill="#000"/>
<rect x="225" y="505" width="5" height="12" fill="#000"/>
<rect x="226" y="506" width="3" height="10" fill="#fff"/>
<rect x="235" y="495" width="1" height="14" fill="#000"/>
<rect x="233" y="504" width="5" height="1" fill="#000"/>
<rect x="243" y="495" width="1" height="13" fill="#000"/>
<rect x="241" y="503" width="5" height="2" fill="#000"/>
<rect x="251" y="500" width="1" height="19" fill="#000"/>
<rect x="249" y="502" width="5" height="2" fill="#000"/>
<rect x="259" y="497" width="1" height="37" fill="#000"/>
<rect x="257" y="502" width="5" height="7" fill="#000"/>
<rect x="267" y="496" width="1" height="33" fill="#000"/>
<rect x="265" y="508" width="5" height="15" fill="#000"/>
<rect x="275" y="468" width="1" height="88" fill="#000"/>
<rect x="273" y="474" width="5" height="49" fill="#000"/>
<rect x="274" y="475" width="3" height="47" fill="#fff"/>
<rect x="283" y="466" width="1" height="21" fill="#000"/>
<rect x="281" y="473" width="5" height="2" fill="#000"/>
<rect x="291" y="465" width="1" height="15" fill="#000"/>
<rect x="289" y="472" width="5" height="4" fill="#000"/>
<rect x="299" y="461" width="1" height="34" fill="#000"/>
<rect x="297" y="474" width="5" height="15" fill="#000"/>
<rect x="307" y="482" width="1" height="26" fill="#000"/>
<rect x="305" y="487" width="5" height="2" fill="#000"/>
<rect x="315" y="485" width="1" height="23" fill="#000"/>
<rect x="313" y="488" width="5" height="6" fill="#000"/>
<rect x="323" y="437" width="1" height="78" fill="#000"/>
<rect x="321" y="491" width="5" height="9" fill="#000"/>
<rect x="331" y="499" width="1" height="39" fill="#000"/>
<rect x="329" y="499" width="5" height="38" fill="#000"/>
<rect x="339" y="517" width="1" height="21" fill="#000"/>
<rect x="337" y="520" width="5" height="17" fill="#000"/>
<rect x="338" y="521" width="3" height="15" fill="#fff"/>
<rect x="347" y="508" width="1" height="23" fill="#000"/>
<rect x="345" y="519" width="5" height="3" fill="#000"/>
<rect x="346" y="520" width="3" height="1" fill="#fff"/>
<rect x="355" y="502" width="1" height="35" fill="#000"/>
<rect x="353" y="514" width="5" height="6" fill="#000"/>
<rect x="354" y="515" width="3" height="4" fill="#fff"/>
<rect x="363" y="480" width="1" height="38" fill="#000"/>
<rect x="361" y="484" width="5" height="30" fill="#000"/>
<rect x="362" y="485" width="3" height="28" fill="#fff"/>
<rect x="371" y="428" width="1" height="59" fill="#000"/>
<rect x="369" y="446" width="5" height="39" fill="#000"/>
<rect x="370" y="447" width="3" height="37" fill="#fff"/>
<rect x="379" y="443" width="1" height="20" fill="#000"/>
<rect x="377" y="446" width="5" height="11" fill="#000"/>
<rect x="387" y="451" width="1" height="5" fill="#000"/>
<rect x="385" y="452" width="5" height="2" fill="#000"/>
<rect x="395" y="430" width="1" height="29" fill="#000"/>
<rect x="393" y="444" width="5" height="9" fill="#000"/>
<rect x="394" y="445" width="3" height="7" fill="#fff"/>
<rect x="403" y="440" width="1" height="31" fill="#000"/>
<rect x="401" y="442" width="5" height="17" fill="#000"/>
<rect x="411" y="444" width="1" height="32" fill="#000"/>
<rect x="409" y="444" width="5" height="14" fill="#000"/>
<rect x="410" y="445" width="3" height="12" fill="#fff"/>
<rect x="419" y="394" width="1" height="61" fill="#000"/>
<rect x="417" y="397" width="5" height="48" fill="#000"/>
<rect x="418" y="398" width="3" height="46" fill="#fff"/>
<rect x="427" y="374" width="1" height="26" fill="#000"/>
<rect x="425" y="383" width="5" height="14" fill="#000"/>
<rect x="426" y="384" width="3" height="12" fill="#fff"/>
<rect x="435" y="376" width="1" height="14" fill="#000"/>
<rect x="433" y="383" width="5" height="5" fill="#000"/>
<rect x="443" y="363" width="1" height="27" fill="#000"/>
<rect x="441" y="376" width="5" height="10" fill="#000"/>
<rect x="442" y="377" width="3" height="8" fill="#fff"/>
<rect x="451" y="372" width="1" height="26" fill="#000"/>
<rect x="449" y="376" width="5" height="8" fill="#000"/>
<rect x="459" y="360" width="1" height="33" fill="#000"/>
<rect x="457" y="370" width="5" height="14" fill="#000"/>
<rect x="458" y="371" width="3" height="12" fill="#fff"/>
<rect x="467" y="362" width="1" height="29" fill="#000"/>
<rect x="465" y="368" width="5" height="1" fill="#000"/>
<rect x="475" y="362" width="1" height="24" fill="#000"/>
<rect x="473" y="368" width="5" height="18" fill="#000"/>
<rect x="483" y="375" width="1" height="17" fill="#000"/>
<rect x="481" y="377" width="5" height="10" fill="#000"/>
<rect x="482" y="378" width="3" height="8" fill="#fff"/>
<rect x="491" y="365" width="1" height="16" fill="#000"/>
<rect x="489" y="374" width="5" height="4" fill="#000"/>
<rect x="490" y="375" width="3" height="2" fill="#fff"/>
<rect x="499" y="368" width="1" height="48" fill="#000"/>
<rect x="497" y="374" width="5" height="34" fill="#000"/>
<rect x="507" y="398" width="1" height="17" fill="#000"/>
<rect x="505" y="407" width="5" height="1" fill="#000"/>
<rect x="515" y="399" width="1" height="37" fill="#000"/>
<rect x="513" y="407" width="5" height="15" fill="#000"/>
<rect x="523" y="262" width="1" height="163" fill="#000"/>
<rect x="521" y="264" width="5" height="157" fill="#000"/>
<rect x="522" y="265" width="3" height="155" fill="#fff"/>
<rect x="531" y="229" width="1" height="37" fill="#000"/>
<rect x="529" y="235" width="5" height="27" fill="#000"/>
<rect x="530" y="236" width="3" height="25" fill="#fff"/>
<rect x="539" y="225" width="1" height="45" fill="#000"/>
<rect x="537" y="236" width="5" height="10" fill="#000"/>
<rect x="547" y="236" width="1" height="38" fill="#000"/>
<rect x="545" y="245" width="5" height="29" fill="#000"/>
<rect x="555" y="235" width="1" height="48" fill="#000"/>
<rect x="553" y="249" width="5" height="26" fill="#000"/>
<rect x="554" y="250" width="3" height="24" fill="#fff"/>
<rect x="563" y="247" width="1" height="110" fill="#000"/>
<rect x="561" y="248" width="5" height="89" fill="#000"/>
<rect x="571" y="328" width="1" height="33" fill="#000"/>
<rect x="569" y="337" width="5" height="3" fill="#000"/>
<rect x="579" y="327" width="1" height="21" fill="#000"/>
<rect x="577" y="327" width="5" height="12" fill="#000"/>
<rect x="578" y="328" width="3" height="10" fill="#fff"/>
<rect x="587" y="326" width="1" height="37" fill="#000"/>
<rect x="585" y="326" width="5" height="29" fill="#000"/>
<rect x="595" y="344" width="1" height="63" fill="#000"/>
<rect x="593" y="354" width="5" height="45" fill="#000"/>
<rect x="603" y="347" width="1" height="53" fill="#000"/>
<rect x="601" y="370" width="5" height="29" fill="#000"/>
<rect x="602" y="371" width="3" height="27" fill="#fff"/>
<rect x="611" y="294" width="1" height="93" fill="#000"/>
<rect x="609" y="351" width="5" height="19" fill="#000"/>
<rect x="610" y="352" width="3" height="17" fill="#fff"/>
<rect x="619" y="341" width="1" height="32" fill="#000"/>
<rect x="617" y="351" width="5" height="13" fill="#000"/>
<rect x="627" y="347" width="1" height="15" fill="#000"/>
<rect x="625" y="353" width="5" height="7" fill="#000"/>
<rect x="626" y="354" width="3" height="5" fill="#fff"/>
<rect x="635" y="342" width="1" height="111" fill="#000"/>
<rect x="633" y="353" width="5" height="82" fill="#000"/>
<rect x="643" y="381" width="1" height="69" fill="#000"/>
<rect x="641" y="388" width="5" height="48" fill="#000"/>
<rect x="642" y="389" width="3" height="46" fill="#fff"/>
<rect x="651" y="363" width="1" height="50" fill="#000"/>
<rect x="649" y="375" width="5" height="12" fill="#000"/>
<rect x="650" y="376" width="3" height="10" fill="#fff"/>
<rect x="659" y="325" width="1" height="55" fill="#000"/>
<rect x="657" y="348" width="5" height="28" fill="#000"/>
<rect x="658" y="349" width="3" height="26" fill="#fff"/>
<rect x="667" y="331" width="1" height="36" fill="#000"/>
<rect x="665" y="337" width="5" height="14" fill="#000"/>
<rect x="666" y="338" width="3" height="12" fill="#fff"/>
<rect x="675" y="316" width="1" height="24" fill="#000"/>
<rect x="673" y="316" width="5" height="21" fill="#000"/>
<rect x="674" y="317" width="3" height="19" fill="#fff"/>
<rect x="683" y="297" width="1" height="55" fill="#000"/>
<rect x="681" y="309" width="5" height="7" fill="#000"/>
<rect x="682" y="310" width="3" height="5" fill="#fff"/>
<rect x="691" y="283" width="1" height="40" fill="#000"/>
<rect x="689" y="294" width="5" height="15" fill="#000"/>
<rect x="690" y="295" width="3" height="13" fill="#fff"/>
<rect x="699" y="285" width="1" height="31" fill="#000"/>
<rect x="697" y="286" width="5" height="9" fill="#000"/>
<rect x="698" y="287" width="3" height="7" fill="#fff"/>
<rect x="707" y="231" width="1" height="59" fill="#000"/>
<rect x="705" y="240" width="5" height="48" fill="#000"/>
<rect x="706" y="241" width="3" height="46" fill="#fff"/>
<rect x="715" y="236" width="1" height="38" fill="#000"/>
<rect x="713" y="239" width="5" height="26" fill="#000"/>
<rect x="723" y="253" width="1" height="16" fill="#000"/>
<rect x="721" y="259" width="5" height="6" fill="#000"/>
<rect x="722" y="260" width="3" height="4" fill="#fff"/>
<rect x="731" y="218" width="1" height="43" fill="#000"/>
<rect x="729" y="237" width="5" height="24" fill="#000"/>
<rect x="730" y="238" width="3" height="22" fill="#fff"/>
<rect x="739" y="205" width="1" height="33" fill="#000"/>
<rect x="737" y="213" width="5" height="25" fill="#000"/>
<rect x="738" y="214" width="3" height="23" fill="#fff"/>
<rect x="747" y="166" width="1" height="93" fill="#000"/>
<rect x="745" y="213" width="5" height="4" fill="#000"/>
<rect x="755" y="206" width="1" height="48" fill="#000"/>
<rect x="753" y="216" width="5" height="2" fill="#000"/>
<rect x="763" y="185" width="1" height="33" fill="#000"/>
<rect x="761" y="195" width="5" height="23" fill="#000"/>
<rect x="762" y="196" width="3" height="21" fill="#fff"/>
<rect x="771" y="181" width="1" height="18" fill="#000"/>
<rect x="769" y="185" width="5" height="10" fill="#000"/>
<rect x="770" y="186" width="3" height="8" fill="#fff"/>
<rect x="779" y="164" width="1" height="33" fill="#000"/>
<rect x="777" y="184" width="5" height="2" fill="#000"/>
<rect x="787" y="183" width="1" height="55" fill="#000"/>
<rect x="785" y="184" width="5" height="29" fill="#000"/>
<rect x="795" y="205" width="1" height="34" fill="#000"/>
<rect x="793" y="212" width="5" height="15" fill="#000"/>
<rect x="803" y="206" width="1" height="47" fill="#000"/>
<rect x="801" y="207" width="5" height="20" fill="#000"/>
<rect x="802" y="208" width="3" height="18" fill="#fff"/>
<rect x="811" y="207" width="1" height="16" fill="#000"/>
<rect x="809" y="207" width="5" height="14" fill="#000"/>
<rect x="819" y="202" width="1" height="21" fill="#000"/>
<rect x="817" y="204" width="5" height="18" fill="#000"/>
<rect x="818" y="205" width="3" height="16" fill="#fff"/>
<rect x="827" y="191" width="1" height="30" fill="#000"/>
<rect x="825" y="204" width="5" height="15" fill="#000"/>
<rect x="835" y="212" width="1" height="30" fill="#000"/>
<rect x="833" y="218" width="5" height="22" fill="#000"/>
<rect x="843" y="230" width="1" height="26" fill="#000"/>
<rect x="841" y="239" width="5" height="5" fill="#000"/>
<rect x="851" y="229" width="1" height="67" fill="#000"/>
<rect x="849" y="233" width="5" height="11" fill="#000"/>
<rect x="850" y="234" width="3" height="9" fill="#fff"/>
<rect x="859" y="213" width="1" height="20" fill="#000"/>
<rect x="857" y="221" width="5" height="12" fill="#000"/>
<rect x="858" y="222" width="3" height="10" fill="#fff"/>
<rect x="867" y="221" width="1" height="12" fill="#000"/>
<rect x="865" y="227" width="5" height="5" fill="#000"/>
<rect x="866" y="228" width="3" height="3" fill="#fff"/>
<rect x="875" y="221" width="1" height="44" fill="#000"/>
<rect x="873" y="227" width="5" height="38" fill="#000"/>
<rect x="883" y="243" width="1" height="25" fill="#000"/>
<rect x="881" y="261" width="5" height="2" fill="#000"/>
<rect x="891" y="198" width="1" height="64" fill="#000"/>
<rect x="889" y="201" width="5" height="59" fill="#000"/>
<rect x="890" y="202" width="3" height="57" fill="#fff"/>
<rect x="899" y="193" width="1" height="96" fill="#000"/>
<rect x="897" y="201" width="5" height="88" fill="#000"/>
<rect x="907" y="269" width="1" height="24" fill="#000"/>
<rect x="905" y="270" width="5" height="19" fill="#000"/>
<rect x="906" y="271" width="3" height="17" fill="#fff"/>
<rect x="915" y="264" width="1" height="14" fill="#000"/>
<rect x="913" y="269" width="5" height="1" fill="#000"/>
<rect x="923" y="262" width="1" height="40" fill="#000"/>
<rect x="921" y="269" width="5" height="19" fill="#000"/>
<rect x="931" y="251" width="1" height="39" fill="#000"/>
<rect x="929" y="252" width="5" height="37" fill="#000"/>
<rect x="930" y="253" width="3" height="35" fill="#fff"/>
<rect x="939" y="238" width="1" height="52" fill="#000"/>
<rect x="937" y="253" width="5" height="16" fill="#000"/>
<rect x="947" y="243" width="1" height="63" fill="#000"/>
<rect x="945" y="269" width="5" height="15" fill="#000"/>
<rect x="955" y="278" width="1" height="17" fill="#000"/>
<rect x="953" y="283" width="5" height="1" fill="#000"/>
<rect x="963" y="279" width="1" height="21" fill="#000"/>
<rect x="961" y="283" width="5" height="2" fill="#000"/>
<rect x="971" y="271" width="1" height="33" fill="#000"/>
<rect x="969" y="284" width="5" height="11" fill="#000"/>
<rect x="979" y="272" width="1" height="31" fill="#000"/>
<rect x="977" y="282" width="5" height="12" fill="#000"/>
<rect x="978" y="283" width="3" height="10" fill="#fff"/>
<rect x="987" y="277" width="1" height="31" fill="#000"/>
<rect x="985" y="282" width="5" height="5" fill="#000"/>
<rect x="995" y="173" width="1" height="117" fill="#000"/>
<rect x="993" y="180" width="5" height="107" fill="#000"/>
<rect x="994" y="181" width="3" height="105" fill="#fff"/>
<rect x="1003" y="163" width="1" height="26" fill="#000"/>
<rect x="1001" y="170" width="5" height="8" fill="#000"/>
<rect x="1002" y="171" width="3" height="6" fill="#fff"/>
<rect x="1011" y="159" width="1" height="16" fill="#000"/>
<rect x="1009" y="160" width="5" height="11" fill="#000"/>
<rect x="1010" y="161" width="3" height="9" fill="#fff"/>
<rect x="1019" y="153" width="1" height="30" fill="#000"/>
<rect x="1017" y="160" width="5" height="8" fill="#000"/>
<rect x="1027" y="130" width="1" height="41" fill="#000"/>
<rect x="1025" y="131" width="5" height="37" fill="#000"/>
<rect x="1026" y="132" width="3" height="35" fill="#fff"/>
<rect x="1035" y="58" width="1" height="74" fill="#000"/>
<rect x="1033" y="90" width="5" height="41" fill="#000"/>
<rect x="1034" y="91" width="3" height="39" fill="#fff"/>
<rect x="1043" y="61" width="1" height="55" fill="#000"/>
<rect x="1041" y="71" width="5" height="20" fill="#000"/>
<rect x="1042" y="72" width="3" height="18" fill="#fff"/>
<rect x="1051" y="55" width="1" height="23" fill="#000"/>
<rect x="1049" y="71" width="5" height="3" fill="#000"/>
<rect x="1059" y="66" width="1" height="14" fill="#000"/>
<rect x="1057" y="70" width="5" height="3" fill="#000"/>
<rect x="1058" y="71" width="3" height="1" fill="#fff"/>
<rect x="1067" y="51" width="1" height="23" fill="#000"/>
<rect x="1065" y="68" width="5" height="1" fill="#000"/>
<rect x="1075" y="51" width="1" height="22" fill="#000"/>
<rect x="1073" y="68" width="5" height="2" fill="#000"/>
<rect x="1083" y="66" width="1" height="44" fill="#000"/>
<rect x="1081" y="69" width="5" height="27" fill="#000"/>
<rect x="1091" y="62" width="1" height="95" fill="#000"/>
<rect x="1089" y="95" width="5" height="32" fill="#000"/>
<rect x="1099" y="125" width="1" height="73" fill="#000"/>
<rect x="1097" y="127" width="5" height="50" fill="#000"/>
<rect x="1107" y="155" width="1" height="11" fill="#000"/>
<rect x="1105" y="156" width="5" height="3" fill="#000"/>
<rect x="1115" y="148" width="1" height="30" fill="#000"/>
<rect x="1113" y="159" width="5" height="5" fill="#000"/>
<rect x="1123" y="157" width="1" height="52" fill="#000"/>
<rect x="1121" y="163" width="5" height="44" fill="#000"/>
<rect x="1131" y="203" width="1" height="27" fill="#000"/>
<rect x="1129" y="206" width="5" height="15" fill="#000"/>
<rect x="1139" y="192" width="1" height="28" fill="#000"/>
<rect x="1137" y="206" width="5" height="14" fill="#000"/>
<rect x="1138" y="207" width="3" height="12" fill="#fff"/>
<rect x="1147" y="194" width="1" height="19" fill="#000"/>
<rect x="1145" y="198" width="5" height="10" fill="#000"/>
<rect x="1146" y="199" width="3" height="8" fill="#fff"/>
<rect x="1155" y="191" width="1" height="18" fill="#000"/>
<rect x="1153" y="198" width="5" height="7" fill="#000"/>
<rect x="1163" y="202" width="1" height="31" fill="#000"/>
<rect x="1161" y="202" width="5" height="19" fill="#000"/>
<rect x="1171" y="205" width="1" height="35" fill="#000"/>
<rect x="1169" y="220" width="5" height="15" fill="#000"/>
<rect x="1179" y="216" width="1" height="54" fill="#000"/>
<rect x="1177" y="234" width="5" height="26" fill="#000"/>
<rect x="1187" y="228" width="1" height="60" fill="#000"/>
<rect x="1185" y="258" width="5" height="2" fill="#000"/>
<rect x="1195" y="252" width="1" height="19" fill="#000"/>
<rect x="1193" y="259" width="5" height="6" fill="#000"/>
<rect x="1203" y="257" width="1" height="21" fill="#000"/>
<rect x="1201" y="263" width="5" height="8" fill="#000"/>
<rect x="1211" y="266" width="1" height="48" fill="#000"/>
<rect x="1209" y="270" width="5" height="2" fill="#000"/>
<rect x="1219" y="241" width="1" height="55" fill="#000"/>
<rect x="1217" y="263" width="5" height="8" fill="#000"/>
<rect x="1218" y="264" width="3" height="6" fill="#fff"/>
<rect x="1227" y="226" width="1" height="38" fill="#000"/>
<rect x="1225" y="253" width="5" height="11" fill="#000"/>
<rect x="1226" y="254" width="3" height="9" fill="#fff"/>
<rect x="1235" y="226" width="1" height="64" fill="#000"/>
<rect x="1233" y="253" width="5" height="14" fill="#000"/>
<rect x="1243" y="244" width="1" height="40" fill="#000"/>
<rect x="1241" y="266" width="5" height="4" fill="#000"/>
<rect x="1251" y="256" width="1" height="17" fill="#000"/>
<rect x="1249" y="263" width="5" height="5" fill="#000"/>
<rect x="1250" y="264" width="3" height="3" fill="#fff"/>
<rect x="1259" y="260" width="1" height="48" fill="#000"/>
<rect x="1257" y="263" width="5" height="15" fill="#000"/>
<rect x="1267" y="277" width="1" height="167" fill="#000"/>
<rect x="1265" y="277" width="5" height="162" fill="#000"/>
<rect x="1275" y="385" width="1" height="72" fill="#000"/>
<rect x="1273" y="438" width="5" height="9" fill="#000"/>
<rect x="1283" y="425" width="1" height="66" fill="#000"/>
<rect x="1281" y="432" width="5" height="15" fill="#000"/>
<rect x="1282" y="433" width="3" height="13" fill="#fff"/>
<rect x="1291" y="422" width="1" height="20" fill="#000"/>
<rect x="1289" y="431" width="5" height="11" fill="#000"/>
<rect x="1299" y="427" width="1" height="52" fill="#000"/>
<rect x="1297" y="437" width="5" height="4" fill="#000"/>
<rect x="1298" y="438" width="3" height="2" fill="#fff"/>
<rect x="1307" y="402" width="1" height="40" fill="#000"/>
<rect x="1305" y="418" width="5" height="19" fill="#000"/>
<rect x="1306" y="419" width="3" height="17" fill="#fff"/>
<rect x="1315" y="367" width="1" height="56" fill="#000"/>
<rect x="1313" y="392" width="5" height="26" fill="#000"/>
<rect x="1314" y="393" width="3" height="24" fill="#fff"/>
<rect x="1323" y="365" width="1" height="51" fill="#000"/>
<rect x="1321" y="384" width="5" height="7" fill="#000"/>
<rect x="1322" y="385" width="3" height="5" fill="#fff"/>
<rect x="1331" y="341" width="1" height="68" fill="#000"/>
<rect x="1329" y="358" width="5" height="26" fill="#000"/>
<rect x="1330" y="359" width="3" height="24" fill="#fff"/>
<rect x="1339" y="349" width="1" height="17" fill="#000"/>
<rect x="1337" y="357" width="5" height="6" fill="#000"/>
<rect x="1347" y="346" width="1" height="20" fill="#000"/>
<rect x="1345" y="349" width="5" height="6" fill="#000"/>
<rect x="1346" y="350" width="3" height="4" fill="#fff"/>
<rect x="1355" y="342" width="1" height="51" fill="#000"/>
<rect x="1353" y="348" width="5" height="15" fill="#000"/>
<rect x="1363" y="337" width="1" height="57" fill="#000"/>
<rect x="1361" y="363" width="5" height="23" fill="#000"/>
<rect x="1371" y="340" width="1" height="60" fill="#000"/>
<rect x="1369" y="351" width="5" height="35" fill="#000"/>
<rect x="1370" y="352" width="3" height="33" fill="#fff"/>
<rect x="1379" y="313" width="1" height="61" fill="#000"/>
<rect x="1377" y="319" width="5" height="32" fill="#000"/>
<rect x="1378" y="320" width="3" height="30" fill="#fff"/>
<rect x="1387" y="311" width="1" height="19" fill="#000"/>
<rect x="1385" y="319" width="5" height="6" fill="#000"/>
<rect x="1395" y="318" width="1" height="13" fill="#000"/>
<rect x="1393" y="324" width="5" height="4" fill="#000"/>
<rect x="1403" y="304" width="1" height="32" fill="#000"/>
<rect x="1401" y="317" width="5" height="10" fill="#000"/>
<rect x="1402" y="318" width="3" height="8" fill="#fff"/>
<rect x="1411" y="302" width="1" height="29" fill="#000"/>
<rect x="1409" y="317" width="5" height="1" fill="#000"/>
<rect x="1419" y="308" width="1" height="46" fill="#000"/>
<rect x="1417" y="317" width="5" height="33" fill="#000"/>
<rect x="1427" y="281" width="1" height="72" fill="#000"/>
<rect x="1425" y="319" width="5" height="32" fill="#000"/>
<rect x="1426" y="320" width="3" height="30" fill="#fff"/>
<rect x="1435" y="270" width="1" height="49" fill="#000"/>
<rect x="1433" y="270" width="5" height="49" fill="#000"/>
<rect x="1434" y="271" width="3" height="47" fill="#fff"/>
<rect x="1443" y="261" width="1" height="9" fill="#000"/>
<rect x="1441" y="264" width="5" height="6" fill="#000"/>
<rect x="1442" y="265" width="3" height="4" fill="#fff"/>
</g>
<g shape-rendering="crispEdges">
<rect x="1381" y="274" width="121" height="7" fill="#00ff00"/>
<rect x="1508.5" y="278.5" width="110" height="24" fill="none" stroke="#404040" stroke-width="1"/>
</g>
<text x="1510" y="297" font-size="21" font-family='"Liberation Sans", "Noto Sans CJK SC", sans-serif' font-weight="300" fill="#00ff00" textLength="105" lengthAdjust="spacingAndGlyphs">多空转折点</text>
<line x1="1272.5" y1="486.5" x2="1459.2" y2="255.3" stroke="#ff0000" stroke-width="3.6" stroke-linecap="butt"/>
<polygon points="1465.5,247.5 1461.9,260.0 1454.1,253.7" fill="#ff0000"/>
<g clip-path="url(#cMacd)" shape-rendering="crispEdges">
<rect x="3" y="643" width="1" height="14" fill="#c0c0c0"/>
<rect x="11" y="642" width="1" height="15" fill="#c0c0c0"/>
<rect x="19" y="638" width="1" height="19" fill="#c0c0c0"/>
<rect x="27" y="635" width="1" height="22" fill="#c0c0c0"/>
<rect x="35" y="637" width="1" height="20" fill="#c0c0c0"/>
<rect x="43" y="640" width="1" height="17" fill="#c0c0c0"/>
<rect x="51" y="642" width="1" height="15" fill="#c0c0c0"/>
<rect x="59" y="641" width="1" height="16" fill="#c0c0c0"/>
<rect x="67" y="637" width="1" height="20" fill="#c0c0c0"/>
<rect x="75" y="636" width="1" height="21" fill="#c0c0c0"/>
<rect x="83" y="624" width="1" height="33" fill="#c0c0c0"/>
<rect x="91" y="615" width="1" height="42" fill="#c0c0c0"/>
<rect x="99" y="608" width="1" height="49" fill="#c0c0c0"/>
<rect x="107" y="604" width="1" height="53" fill="#c0c0c0"/>
<rect x="115" y="603" width="1" height="54" fill="#c0c0c0"/>
<rect x="123" y="605" width="1" height="52" fill="#c0c0c0"/>
<rect x="131" y="622" width="1" height="35" fill="#c0c0c0"/>
<rect x="139" y="634" width="1" height="23" fill="#c0c0c0"/>
<rect x="147" y="640" width="1" height="17" fill="#c0c0c0"/>
<rect x="155" y="647" width="1" height="10" fill="#c0c0c0"/>
<rect x="171" y="656" width="1" height="10" fill="#c0c0c0"/>
<rect x="179" y="656" width="1" height="18" fill="#c0c0c0"/>
<rect x="187" y="656" width="1" height="25" fill="#c0c0c0"/>
<rect x="195" y="656" width="1" height="29" fill="#c0c0c0"/>
<rect x="203" y="656" width="1" height="29" fill="#c0c0c0"/>
<rect x="211" y="656" width="1" height="26" fill="#c0c0c0"/>
<rect x="219" y="656" width="1" height="26" fill="#c0c0c0"/>
<rect x="227" y="656" width="1" height="25" fill="#c0c0c0"/>
<rect x="235" y="656" width="1" height="23" fill="#c0c0c0"/>
<rect x="243" y="656" width="1" height="22" fill="#c0c0c0"/>
<rect x="251" y="656" width="1" height="20" fill="#c0c0c0"/>
<rect x="259" y="656" width="1" height="19" fill="#c0c0c0"/>
<rect x="267" y="656" width="1" height="20" fill="#c0c0c0"/>
<rect x="275" y="656" width="1" height="15" fill="#c0c0c0"/>
<rect x="283" y="656" width="1" height="11" fill="#c0c0c0"/>
<rect x="291" y="656" width="1" height="8" fill="#c0c0c0"/>
<rect x="299" y="656" width="1" height="7" fill="#c0c0c0"/>
<rect x="307" y="656" width="1" height="6" fill="#c0c0c0"/>
<rect x="315" y="656" width="1" height="6" fill="#c0c0c0"/>
<rect x="323" y="656" width="1" height="6" fill="#c0c0c0"/>
<rect x="331" y="656" width="1" height="10" fill="#c0c0c0"/>
<rect x="339" y="656" width="1" height="12" fill="#c0c0c0"/>
<rect x="347" y="656" width="1" height="13" fill="#c0c0c0"/>
<rect x="355" y="656" width="1" height="13" fill="#c0c0c0"/>
<rect x="363" y="656" width="1" height="9" fill="#c0c0c0"/>
<rect x="371" y="656" width="1" height="3" fill="#c0c0c0"/>
<rect x="379" y="653" width="1" height="4" fill="#c0c0c0"/>
<rect x="387" y="650" width="1" height="7" fill="#c0c0c0"/>
<rect x="395" y="646" width="1" height="11" fill="#c0c0c0"/>
<rect x="403" y="645" width="1" height="12" fill="#c0c0c0"/>
<rect x="411" y="642" width="1" height="15" fill="#c0c0c0"/>
<rect x="419" y="636" width="1" height="21" fill="#c0c0c0"/>
<rect x="427" y="629" width="1" height="28" fill="#c0c0c0"/>
<rect x="435" y="625" width="1" height="32" fill="#c0c0c0"/>
<rect x="443" y="621" width="1" height="36" fill="#c0c0c0"/>
<rect x="451" y="618" width="1" height="39" fill="#c0c0c0"/>
<rect x="459" y="616" width="1" height="41" fill="#c0c0c0"/>
<rect x="467" y="614" width="1" height="43" fill="#c0c0c0"/>
<rect x="475" y="615" width="1" height="42" fill="#c0c0c0"/>
<rect x="483" y="615" width="1" height="42" fill="#c0c0c0"/>
<rect x="491" y="615" width="1" height="42" fill="#c0c0c0"/>
<rect x="499" y="620" width="1" height="37" fill="#c0c0c0"/>
<rect x="507" y="623" width="1" height="34" fill="#c0c0c0"/>
<rect x="515" y="628" width="1" height="29" fill="#c0c0c0"/>
<rect x="523" y="616" width="1" height="41" fill="#c0c0c0"/>
<rect x="531" y="603" width="1" height="54" fill="#c0c0c0"/>
<rect x="539" y="595" width="1" height="62" fill="#c0c0c0"/>
<rect x="547" y="592" width="1" height="65" fill="#c0c0c0"/>
<rect x="555" y="588" width="1" height="69" fill="#c0c0c0"/>
<rect x="563" y="595" width="1" height="62" fill="#c0c0c0"/>
<rect x="571" y="602" width="1" height="55" fill="#c0c0c0"/>
<rect x="579" y="606" width="1" height="51" fill="#c0c0c0"/>
<rect x="587" y="613" width="1" height="44" fill="#c0c0c0"/>
<rect x="595" y="623" width="1" height="34" fill="#c0c0c0"/>
<rect x="603" y="629" width="1" height="28" fill="#c0c0c0"/>
<rect x="611" y="632" width="1" height="25" fill="#c0c0c0"/>
<rect x="619" y="636" width="1" height="21" fill="#c0c0c0"/>
<rect x="627" y="638" width="1" height="19" fill="#c0c0c0"/>
<rect x="635" y="648" width="1" height="9" fill="#c0c0c0"/>
<rect x="643" y="651" width="1" height="6" fill="#c0c0c0"/>
<rect x="651" y="653" width="1" height="4" fill="#c0c0c0"/>
<rect x="659" y="651" width="1" height="6" fill="#c0c0c0"/>
<rect x="667" y="648" width="1" height="9" fill="#c0c0c0"/>
<rect x="675" y="644" width="1" height="13" fill="#c0c0c0"/>
<rect x="683" y="640" width="1" height="17" fill="#c0c0c0"/>
<rect x="691" y="636" width="1" height="21" fill="#c0c0c0"/>
<rect x="699" y="632" width="1" height="25" fill="#c0c0c0"/>
<rect x="707" y="624" width="1" height="33" fill="#c0c0c0"/>
<rect x="715" y="621" width="1" height="36" fill="#c0c0c0"/>
<rect x="723" y="618" width="1" height="39" fill="#c0c0c0"/>
<rect x="731" y="614" width="1" height="43" fill="#c0c0c0"/>
<rect x="739" y="609" width="1" height="48" fill="#c0c0c0"/>
<rect x="747" y="606" width="1" height="51" fill="#c0c0c0"/>
<rect x="755" y="604" width="1" height="53" fill="#c0c0c0"/>
<rect x="763" y="601" width="1" height="56" fill="#c0c0c0"/>
<rect x="771" y="598" width="1" height="59" fill="#c0c0c0"/>
<rect x="779" y="596" width="1" height="61" fill="#c0c0c0"/>
<rect x="787" y="598" width="1" height="59" fill="#c0c0c0"/>
<rect x="795" y="602" width="1" height="55" fill="#c0c0c0"/>
<rect x="803" y="604" width="1" height="53" fill="#c0c0c0"/>
<rect x="811" y="607" width="1" height="50" fill="#c0c0c0"/>
<rect x="819" y="609" width="1" height="48" fill="#c0c0c0"/>
<rect x="827" y="612" width="1" height="45" fill="#c0c0c0"/>
<rect x="835" y="617" width="1" height="40" fill="#c0c0c0"/>
<rect x="843" y="622" width="1" height="35" fill="#c0c0c0"/>
<rect x="851" y="625" width="1" height="32" fill="#c0c0c0"/>
<rect x="859" y="627" width="1" height="30" fill="#c0c0c0"/>
<rect x="867" y="629" width="1" height="28" fill="#c0c0c0"/>
<rect x="875" y="635" width="1" height="22" fill="#c0c0c0"/>
<rect x="883" y="640" width="1" height="17" fill="#c0c0c0"/>
<rect x="891" y="637" width="1" height="20" fill="#c0c0c0"/>
<rect x="899" y="644" width="1" height="13" fill="#c0c0c0"/>
<rect x="907" y="648" width="1" height="9" fill="#c0c0c0"/>
<rect x="915" y="652" width="1" height="5" fill="#c0c0c0"/>
<rect x="939" y="656" width="1" height="2" fill="#c0c0c0"/>
<rect x="947" y="656" width="1" height="5" fill="#c0c0c0"/>
<rect x="955" y="656" width="1" height="7" fill="#c0c0c0"/>
<rect x="963" y="656" width="1" height="9" fill="#c0c0c0"/>
<rect x="971" y="656" width="1" height="11" fill="#c0c0c0"/>
<rect x="979" y="656" width="1" height="12" fill="#c0c0c0"/>
<rect x="987" y="656" width="1" height="12" fill="#c0c0c0"/>
<rect x="1003" y="647" width="1" height="10" fill="#c0c0c0"/>
<rect x="1011" y="638" width="1" height="19" fill="#c0c0c0"/>
<rect x="1019" y="632" width="1" height="25" fill="#c0c0c0"/>
<rect x="1027" y="624" width="1" height="33" fill="#c0c0c0"/>
<rect x="1035" y="614" width="1" height="43" fill="#c0c0c0"/>
<rect x="1043" y="604" width="1" height="53" fill="#c0c0c0"/>
<rect x="1051" y="598" width="1" height="59" fill="#c0c0c0"/>
<rect x="1059" y="593" width="1" height="64" fill="#c0c0c0"/>
<rect x="1067" y="589" width="1" height="68" fill="#c0c0c0"/>
<rect x="1075" y="588" width="1" height="69" fill="#c0c0c0"/>
<rect x="1083" y="590" width="1" height="67" fill="#c0c0c0"/>
<rect x="1091" y="596" width="1" height="61" fill="#c0c0c0"/>
<rect x="1099" y="606" width="1" height="51" fill="#c0c0c0"/>
<rect x="1107" y="613" width="1" height="44" fill="#c0c0c0"/>
<rect x="1115" y="619" width="1" height="38" fill="#c0c0c0"/>
<rect x="1123" y="629" width="1" height="28" fill="#c0c0c0"/>
<rect x="1131" y="639" width="1" height="18" fill="#c0c0c0"/>
<rect x="1139" y="645" width="1" height="12" fill="#c0c0c0"/>
<rect x="1147" y="650" width="1" height="7" fill="#c0c0c0"/>
<rect x="1155" y="654" width="1" height="3" fill="#c0c0c0"/>
<rect x="1163" y="656" width="1" height="3" fill="#c0c0c0"/>
<rect x="1171" y="656" width="1" height="9" fill="#c0c0c0"/>
<rect x="1179" y="656" width="1" height="15" fill="#c0c0c0"/>
<rect x="1187" y="656" width="1" height="20" fill="#c0c0c0"/>
<rect x="1195" y="656" width="1" height="25" fill="#c0c0c0"/>
<rect x="1203" y="656" width="1" height="28" fill="#c0c0c0"/>
<rect x="1211" y="656" width="1" height="31" fill="#c0c0c0"/>
<rect x="1219" y="656" width="1" height="32" fill="#c0c0c0"/>
<rect x="1227" y="656" width="1" height="31" fill="#c0c0c0"/>
<rect x="1235" y="656" width="1" height="32" fill="#c0c0c0"/>
<rect x="1243" y="656" width="1" height="32" fill="#c0c0c0"/>
<rect x="1251" y="656" width="1" height="32" fill="#c0c0c0"/>
<rect x="1259" y="656" width="1" height="32" fill="#c0c0c0"/>
<rect x="1267" y="656" width="1" height="49" fill="#c0c0c0"/>
<rect x="1275" y="656" width="1" height="63" fill="#c0c0c0"/>
<rect x="1283" y="656" width="1" height="72" fill="#c0c0c0"/>
<rect x="1291" y="656" width="1" height="79" fill="#c0c0c0"/>
<rect x="1299" y="656" width="1" height="83" fill="#c0c0c0"/>
<rect x="1307" y="656" width="1" height="83" fill="#c0c0c0"/>
<rect x="1315" y="656" width="1" height="80" fill="#c0c0c0"/>
<rect x="1323" y="656" width="1" height="75" fill="#c0c0c0"/>
<rect x="1331" y="656" width="1" height="68" fill="#c0c0c0"/>
<rect x="1339" y="656" width="1" height="62" fill="#c0c0c0"/>
<rect x="1347" y="656" width="1" height="55" fill="#c0c0c0"/>
<rect x="1355" y="656" width="1" height="51" fill="#c0c0c0"/>
<rect x="1363" y="656" width="1" height="49" fill="#c0c0c0"/>
<rect x="1371" y="656" width="1" height="44" fill="#c0c0c0"/>
<rect x="1379" y="656" width="1" height="36" fill="#c0c0c0"/>
<rect x="1387" y="656" width="1" height="29" fill="#c0c0c0"/>
<rect x="1395" y="656" width="1" height="24" fill="#c0c0c0"/>
<rect x="1403" y="656" width="1" height="19" fill="#c0c0c0"/>
<rect x="1411" y="656" width="1" height="15" fill="#c0c0c0"/>
<rect x="1419" y="656" width="1" height="15" fill="#c0c0c0"/>
<rect x="1427" y="656" width="1" height="11" fill="#c0c0c0"/>
<rect x="1435" y="656" width="1" height="3" fill="#c0c0c0"/>
<rect x="1443" y="651" width="1" height="6" fill="#c0c0c0"/>
</g>
<g clip-path="url(#cMacd)">
<polyline points="0.0,626.5 3.0,627.5 11.0,631.2 19.0,633.3 27.0,635.5 35.0,636.5 43.0,637.3 51.0,638.6 59.0,639.5 67.0,639.5 75.0,638.7 83.0,636.7 91.0,634.0 99.0,631.0 107.0,627.4 115.0,623.3 123.0,619.2 131.0,617.1 139.0,616.6 147.0,617.2 155.0,619.8 163.0,624.4 171.0,630.7 179.0,638.4 187.0,646.9 195.0,655.7 203.0,662.6 211.0,667.9 219.0,672.4 227.0,676.0 235.0,678.5 243.0,679.8 251.0,679.9 259.0,679.3 267.0,678.3 275.0,676.7 283.0,675.0 291.0,673.0 299.0,671.0 307.0,669.1 315.0,667.4 323.0,665.8 331.0,664.8 339.0,663.9 347.0,663.6 355.0,663.8 363.0,663.9 371.0,663.5 379.0,662.6 387.0,661.4 395.0,659.8 403.0,657.5 411.0,654.8 419.0,651.3 427.0,647.0 435.0,642.6 443.0,638.5 451.0,634.6 459.0,630.8 467.0,627.3 475.0,623.9 483.0,620.9 491.0,618.6 499.0,617.5 507.0,617.4 515.0,618.2 523.0,617.9 531.0,616.5 539.0,614.4 547.0,611.9 555.0,608.9 563.0,606.7 571.0,604.7 579.0,602.8 587.0,601.1 595.0,601.9 603.0,604.8 611.0,609.0 619.0,613.8 627.0,619.3 635.0,625.2 643.0,630.7 651.0,635.9 659.0,640.1 667.0,642.9 675.0,644.6 683.0,645.5 691.0,645.6 699.0,644.9 707.0,642.3 715.0,638.9 723.0,635.0 731.0,630.9 739.0,626.5 747.0,622.3 755.0,618.2 763.0,614.3 771.0,610.5 779.0,607.4 787.0,604.9 795.0,603.1 803.0,602.0 811.0,601.8 819.0,602.1 827.0,603.0 835.0,604.8 843.0,607.5 851.0,610.7 859.0,613.9 867.0,616.9 875.0,620.3 883.0,623.9 891.0,627.0 899.0,630.7 907.0,634.1 915.0,637.4 923.0,640.9 931.0,644.1 939.0,647.2 947.0,650.0 955.0,652.6 963.0,655.6 971.0,658.0 979.0,660.0 987.0,661.7 995.0,661.8 1003.0,660.7 1011.0,658.6 1019.0,655.5 1027.0,651.3 1035.0,645.8 1043.0,638.9 1051.0,631.3 1059.0,623.0 1067.0,615.6 1075.0,609.0 1083.0,603.7 1091.0,599.6 1099.0,597.5 1107.0,597.4 1115.0,599.1 1123.0,602.6 1131.0,607.7 1139.0,613.9 1147.0,620.8 1155.0,627.9 1163.0,634.9 1171.0,641.3 1179.0,647.7 1187.0,653.9 1195.0,659.5 1203.0,664.4 1211.0,668.9 1219.0,673.1 1227.0,676.8 1235.0,679.9 1243.0,682.6 1251.0,684.4 1259.0,685.7 1267.0,688.4 1275.0,692.3 1283.0,696.8 1291.0,702.0 1299.0,707.7 1307.0,713.4 1315.0,718.7 1323.0,723.5 1331.0,727.5 1339.0,728.9 1347.0,728.0 1355.0,725.7 1363.0,722.4 1371.0,718.0 1379.0,712.7 1387.0,707.1 1395.0,701.5 1403.0,696.1 1411.0,690.8 1419.0,686.3 1427.0,682.0 1435.0,676.9 1443.0,671.6" fill="none" stroke="#ff0000" stroke-width="1" stroke-dasharray="3,3" shape-rendering="crispEdges"/>
</g>
<line x1="1319" y1="742.5" x2="1447.5" y2="663.2" stroke="#ff0000" stroke-width="3.6" stroke-linecap="butt"/>
<polygon points="1456,658 1448.4,668.6 1443.2,660.0" fill="#ff0000"/>
<text class="s" x="0" y="591" font-size="10" fill="#000" text-anchor="start" font-family='"Liberation Sans", "Noto Sans CJK SC", sans-serif' textLength="130.0" lengthAdjust="spacingAndGlyphs">MACD(12,26,9) 0.0165 -0.0565</text>
<g shape-rendering="crispEdges">
<rect x="1654" y="580" width="2" height="1" fill="#000"/>
<rect x="1654" y="656" width="2" height="1" fill="#000"/>
<rect x="1654" y="741" width="2" height="1" fill="#000"/>
<text class="s" x="1657" y="589" font-size="10" font-family='"Liberation Sans", "Noto Sans CJK SC", sans-serif' fill="#000" textLength="22" lengthAdjust="spacingAndGlyphs">0.274</text>
<text class="s" x="1657" y="660" font-size="10" font-family='"Liberation Sans", "Noto Sans CJK SC", sans-serif' fill="#000" textLength="17" lengthAdjust="spacingAndGlyphs">0.00</text>
<text class="s" x="1657" y="745" font-size="10" font-family='"Liberation Sans", "Noto Sans CJK SC", sans-serif' fill="#000" textLength="31" lengthAdjust="spacingAndGlyphs">-0.3242</text>
</g>
<g clip-path="url(#cRsi)" shape-rendering="crispEdges">
<line x1="2" y1="786.5" x2="1653" y2="786.5" stroke="#c0c0c0" stroke-width="1" stroke-dasharray="3,3"/>
<line x1="2" y1="837.5" x2="1653" y2="837.5" stroke="#c0c0c0" stroke-width="1" stroke-dasharray="3,3"/>
<line x1="2" y1="898.5" x2="1653" y2="898.5" stroke="#c0c0c0" stroke-width="1" stroke-dasharray="3,3"/>
<polyline points="0.0,836.8 3.0,836.8 11.0,829.5 19.0,821.3 27.0,820.1 35.0,833.6 43.0,836.7 51.0,834.3 59.0,829.2 67.0,820.4 75.0,823.4 83.0,803.1 91.0,804.2 99.0,803.5 107.0,808.2 115.0,812.1 123.0,819.0 131.0,854.5 139.0,850.6 147.0,844.3 155.0,846.8 163.0,852.7 171.0,857.4 179.0,859.1 187.0,859.6 195.0,857.6 203.0,847.8 211.0,841.3 219.0,847.2 227.0,843.8 235.0,843.5 243.0,843.5 251.0,843.1 259.0,844.8 267.0,849.5 275.0,831.9 283.0,831.9 291.0,832.3 299.0,837.5 307.0,837.5 315.0,839.6 323.0,842.2 331.0,856.2 339.0,848.5 347.0,848.0 355.0,845.5 363.0,832.0 371.0,818.8 379.0,823.5 387.0,822.5 395.0,819.4 403.0,826.5 411.0,821.3 419.0,807.5 427.0,804.2 435.0,806.3 443.0,803.5 451.0,807.6 459.0,804.0 467.0,803.5 475.0,813.9 483.0,811.3 491.0,810.3 499.0,829.0 507.0,829.0 515.0,836.1 523.0,795.9 531.0,792.1 539.0,796.2 547.0,807.1 555.0,803.0 563.0,829.9 571.0,830.7 579.0,828.0 587.0,835.3 595.0,845.7 603.0,838.7 611.0,834.2 619.0,837.2 627.0,834.7 635.0,853.0 643.0,841.7 651.0,838.7 659.0,832.7 667.0,830.3 675.0,825.9 683.0,824.4 691.0,821.2 699.0,819.5 707.0,810.5 715.0,818.3 723.0,817.3 731.0,812.9 739.0,808.4 747.0,809.5 755.0,809.9 763.0,805.4 771.0,803.5 779.0,803.5 787.0,815.7 795.0,821.5 803.0,816.4 811.0,821.9 819.0,817.4 827.0,823.4 835.0,831.8 843.0,833.3 851.0,829.8 859.0,825.6 867.0,828.4 875.0,843.2 883.0,842.0 891.0,821.7 899.0,848.2 907.0,842.9 915.0,842.6 923.0,847.4 931.0,836.8 939.0,841.3 947.0,845.4 955.0,845.4 963.0,845.7 971.0,848.8 979.0,844.0 987.0,845.4 995.0,814.6 1003.0,812.6 1011.0,810.5 1019.0,813.3 1027.0,805.9 1035.0,798.9 1043.0,796.0 1051.0,796.9 1059.0,796.4 1067.0,796.0 1075.0,796.6 1083.0,809.8 1091.0,823.2 1099.0,840.3 1107.0,834.8 1115.0,836.4 1123.0,849.0 1131.0,852.6 1139.0,847.6 1147.0,844.8 1155.0,846.6 1163.0,851.4 1171.0,855.5 1179.0,862.1 1187.0,862.1 1195.0,863.4 1203.0,865.1 1211.0,865.4 1219.0,860.7 1227.0,855.1 1235.0,859.7 1243.0,860.8 1251.0,857.0 1259.0,862.3 1267.0,892.8 1275.0,893.6 1283.0,887.0 1291.0,888.2 1299.0,886.2 1307.0,876.7 1315.0,865.0 1323.0,861.6 1331.0,851.2 1339.0,852.3 1347.0,847.1 1355.0,851.1 1363.0,857.7 1371.0,844.3 1379.0,833.7 1387.0,835.4 1395.0,836.5 1403.0,833.0 1411.0,833.0 1419.0,845.0 1427.0,834.0 1435.0,819.8 1443.0,818.3" fill="none" stroke="#1e90ff" stroke-width="1"/>
</g>
<line x1="1278.5" y1="884.5" x2="1446.7" y2="818.6" stroke="#ff0000" stroke-width="3.6" stroke-linecap="butt"/>
<polygon points="1456,815 1446.6,824.0 1443.0,814.7" fill="#ff0000"/>
<text class="s" x="0" y="763" font-size="10" fill="#000" text-anchor="start" font-family='"Liberation Sans", "Noto Sans CJK SC", sans-serif' textLength="67.0" lengthAdjust="spacingAndGlyphs">RSI(14) 61.1676</text>
<g shape-rendering="crispEdges">
<text class="s" x="1657" y="761" font-size="10" font-family='"Liberation Sans", "Noto Sans CJK SC", sans-serif' fill="#000" textLength="14" lengthAdjust="spacingAndGlyphs">100</text>
<text class="s" x="1657" y="790" font-size="10" font-family='"Liberation Sans", "Noto Sans CJK SC", sans-serif' fill="#000" textLength="10" lengthAdjust="spacingAndGlyphs">80</text>
<text class="s" x="1657" y="841" font-size="10" font-family='"Liberation Sans", "Noto Sans CJK SC", sans-serif' fill="#000" textLength="10" lengthAdjust="spacingAndGlyphs">50</text>
<text class="s" x="1657" y="902" font-size="10" font-family='"Liberation Sans", "Noto Sans CJK SC", sans-serif' fill="#000" textLength="10" lengthAdjust="spacingAndGlyphs">15</text>
<text class="s" x="1657" y="921" font-size="10" font-family='"Liberation Sans", "Noto Sans CJK SC", sans-serif' fill="#000" textLength="5" lengthAdjust="spacingAndGlyphs">0</text>
</g>
<g shape-rendering="crispEdges">
<rect x="59" y="925" width="1" height="3" fill="#000"/>
<text class="s" x="58" y="937" font-size="10" fill="#000" text-anchor="start" font-family='"Liberation Sans", "Noto Sans CJK SC", sans-serif' textLength="47.5" lengthAdjust="spacingAndGlyphs">3 Jun 00:00</text>
<rect x="123" y="925" width="1" height="3" fill="#000"/>
<text class="s" x="122" y="937" font-size="10" fill="#000" text-anchor="start" font-family='"Liberation Sans", "Noto Sans CJK SC", sans-serif' textLength="47.5" lengthAdjust="spacingAndGlyphs">4 Jun 08:00</text>
<rect x="187" y="925" width="1" height="3" fill="#000"/>
<text class="s" x="186" y="937" font-size="10" fill="#000" text-anchor="start" font-family='"Liberation Sans", "Noto Sans CJK SC", sans-serif' textLength="47.5" lengthAdjust="spacingAndGlyphs">7 Jun 16:00</text>
<rect x="251" y="925" width="1" height="3" fill="#000"/>
<text class="s" x="250" y="937" font-size="10" fill="#000" text-anchor="start" font-family='"Liberation Sans", "Noto Sans CJK SC", sans-serif' textLength="47.5" lengthAdjust="spacingAndGlyphs">9 Jun 00:00</text>
<rect x="315" y="925" width="1" height="3" fill="#000"/>
<text class="s" x="314" y="937" font-size="10" fill="#000" text-anchor="start" font-family='"Liberation Sans", "Noto Sans CJK SC", sans-serif' textLength="52.6" lengthAdjust="spacingAndGlyphs">10 Jun 08:00</text>
<rect x="379" y="925" width="1" height="3" fill="#000"/>
<text class="s" x="378" y="937" font-size="10" fill="#000" text-anchor="start" font-family='"Liberation Sans", "Noto Sans CJK SC", sans-serif' textLength="51.9" lengthAdjust="spacingAndGlyphs">11 Jun 16:00</text>
<rect x="443" y="925" width="1" height="3" fill="#000"/>
<text class="s" x="442" y="937" font-size="10" fill="#000" text-anchor="start" font-family='"Liberation Sans", "Noto Sans CJK SC", sans-serif' textLength="52.6" lengthAdjust="spacingAndGlyphs">15 Jun 00:00</text>
<rect x="507" y="925" width="1" height="3" fill="#000"/>
<text class="s" x="506" y="937" font-size="10" fill="#000" text-anchor="start" font-family='"Liberation Sans", "Noto Sans CJK SC", sans-serif' textLength="52.6" lengthAdjust="spacingAndGlyphs">16 Jun 08:00</text>
<rect x="571" y="925" width="1" height="3" fill="#000"/>
<text class="s" x="570" y="937" font-size="10" fill="#000" text-anchor="start" font-family='"Liberation Sans", "Noto Sans CJK SC", sans-serif' textLength="52.6" lengthAdjust="spacingAndGlyphs">17 Jun 16:00</text>
<rect x="635" y="925" width="1" height="3" fill="#000"/>
<text class="s" x="634" y="937" font-size="10" fill="#000" text-anchor="start" font-family='"Liberation Sans", "Noto Sans CJK SC", sans-serif' textLength="52.6" lengthAdjust="spacingAndGlyphs">21 Jun 00:00</text>
<rect x="699" y="925" width="1" height="3" fill="#000"/>
<text class="s" x="698" y="937" font-size="10" fill="#000" text-anchor="start" font-family='"Liberation Sans", "Noto Sans CJK SC", sans-serif' textLength="52.6" lengthAdjust="spacingAndGlyphs">22 Jun 08:00</text>
<rect x="763" y="925" width="1" height="3" fill="#000"/>
<text class="s" x="762" y="937" font-size="10" fill="#000" text-anchor="start" font-family='"Liberation Sans", "Noto Sans CJK SC", sans-serif' textLength="52.6" lengthAdjust="spacingAndGlyphs">23 Jun 16:00</text>
<rect x="827" y="925" width="1" height="3" fill="#000"/>
<text class="s" x="826" y="937" font-size="10" fill="#000" text-anchor="start" font-family='"Liberation Sans", "Noto Sans CJK SC", sans-serif' textLength="52.6" lengthAdjust="spacingAndGlyphs">25 Jun 00:00</text>
<rect x="891" y="925" width="1" height="3" fill="#000"/>
<text class="s" x="890" y="937" font-size="10" fill="#000" text-anchor="start" font-family='"Liberation Sans", "Noto Sans CJK SC", sans-serif' textLength="52.6" lengthAdjust="spacingAndGlyphs">28 Jun 08:00</text>
<rect x="955" y="925" width="1" height="3" fill="#000"/>
<text class="s" x="954" y="937" font-size="10" fill="#000" text-anchor="start" font-family='"Liberation Sans", "Noto Sans CJK SC", sans-serif' textLength="52.6" lengthAdjust="spacingAndGlyphs">29 Jun 16:00</text>
<rect x="1019" y="925" width="1" height="3" fill="#000"/>
<text class="s" x="1018" y="937" font-size="10" fill="#000" text-anchor="start" font-family='"Liberation Sans", "Noto Sans CJK SC", sans-serif' textLength="44.5" lengthAdjust="spacingAndGlyphs">1 Jul 00:00</text>
<rect x="1083" y="925" width="1" height="3" fill="#000"/>
<text class="s" x="1082" y="937" font-size="10" fill="#000" text-anchor="start" font-family='"Liberation Sans", "Noto Sans CJK SC", sans-serif' textLength="44.5" lengthAdjust="spacingAndGlyphs">2 Jul 08:00</text>
<rect x="1147" y="925" width="1" height="3" fill="#000"/>
<text class="s" x="1146" y="937" font-size="10" fill="#000" text-anchor="start" font-family='"Liberation Sans", "Noto Sans CJK SC", sans-serif' textLength="44.5" lengthAdjust="spacingAndGlyphs">5 Jul 16:00</text>
<rect x="1211" y="925" width="1" height="3" fill="#000"/>
<text class="s" x="1210" y="937" font-size="10" fill="#000" text-anchor="start" font-family='"Liberation Sans", "Noto Sans CJK SC", sans-serif' textLength="44.5" lengthAdjust="spacingAndGlyphs">7 Jul 00:00</text>
<rect x="1275" y="925" width="1" height="3" fill="#000"/>
<text class="s" x="1274" y="937" font-size="10" fill="#000" text-anchor="start" font-family='"Liberation Sans", "Noto Sans CJK SC", sans-serif' textLength="44.5" lengthAdjust="spacingAndGlyphs">8 Jul 08:00</text>
<rect x="1339" y="925" width="1" height="3" fill="#000"/>
<text class="s" x="1338" y="937" font-size="10" fill="#000" text-anchor="start" font-family='"Liberation Sans", "Noto Sans CJK SC", sans-serif' textLength="44.5" lengthAdjust="spacingAndGlyphs">9 Jul 16:00</text>
<rect x="1403" y="925" width="1" height="3" fill="#000"/>
<text class="s" x="1402" y="937" font-size="10" fill="#000" text-anchor="start" font-family='"Liberation Sans", "Noto Sans CJK SC", sans-serif' textLength="49.5" lengthAdjust="spacingAndGlyphs">13 Jul 00:00</text>
<text class="s" x="2" y="937" font-size="10" fill="#000" text-anchor="start" font-family='"Liberation Sans", "Noto Sans CJK SC", sans-serif' textLength="37.0" lengthAdjust="spacingAndGlyphs">Jun 2021</text>
</g>
<polygon points="-0.5,34 2,30 5,34" fill="#000"/>
<text class="s" x="10.5" y="35" font-size="10" fill="#000" text-anchor="start" font-family='"Liberation Sans", "Noto Sans CJK SC", sans-serif' textLength="200.5" lengthAdjust="spacingAndGlyphs">USDJPY-,H4&#160;&#160;110.597 110.640 110.581 110.624</text>
<polygon points="1447.5,24 1457.5,24 1452.5,29" fill="#a8a8a8"/>
<g shape-rendering="crispEdges">
<rect x="0" y="43" width="50" height="24" fill="url(#gTop)"/>
<rect x="0" y="43" width="50" height="1" fill="#2020c0"/>
<rect x="2" y="66" width="45" height="1" fill="#8080ff"/>
<rect x="0" y="67" width="108" height="33" fill="url(#gBot)"/>
<rect x="165" y="43" width="52" height="24" fill="url(#gTop)"/>
<rect x="165" y="43" width="52" height="1" fill="#2020c0"/>
<rect x="169" y="66" width="45" height="1" fill="#8080ff"/>
<rect x="109" y="67" width="108" height="33" fill="url(#gBot)"/>
<rect x="108" y="67" width="1" height="33" fill="#ffffff"/>
<rect x="52" y="43" width="112" height="23" fill="#ffffff"/>
<rect x="52.5" y="43.5" width="111" height="22" fill="none" stroke="#a0a0a0"/>
<rect x="54" y="45" width="19" height="19" fill="url(#gBtn)"/>
<rect x="73" y="45" width="1" height="19" fill="#a8a8a8"/>
<rect x="142" y="45" width="1" height="19" fill="#a8a8a8"/>
<rect x="143" y="45" width="19" height="19" fill="url(#gBtn)"/>
</g>
<polygon points="60,52 66,52 63,55" fill="#4a5aa8"/>
<polygon points="149,55 155,55 152,52" fill="#4a5aa8"/>
<text x="137" y="58" font-size="12.5" font-family='"Liberation Sans", sans-serif' fill="#000" text-anchor="end">1.00</text>
<text x="10" y="59" font-size="12.5" font-family='"Liberation Sans", sans-serif' fill="#fff" textLength="26" lengthAdjust="spacingAndGlyphs">SELL</text>
<text x="179" y="59" font-size="12.5" font-family='"Liberation Sans", sans-serif' fill="#fff" textLength="23" lengthAdjust="spacingAndGlyphs">BUY</text>
<text x="21" y="95" font-size="12.5" font-weight="bold" font-family='"Liberation Sans", sans-serif' fill="#fff" textLength="21" lengthAdjust="spacingAndGlyphs">110</text>
<text x="46" y="95" font-size="33" font-family='"Liberation Sans", sans-serif' fill="#fff" textLength="33" lengthAdjust="spacingAndGlyphs">62</text>
<text x="85" y="79" font-size="12.5" font-weight="bold" font-family='"Liberation Sans", sans-serif' fill="#fff">4</text>
<text x="131" y="95" font-size="12.5" font-weight="bold" font-family='"Liberation Sans", sans-serif' fill="#fff" textLength="21" lengthAdjust="spacingAndGlyphs">110</text>
<text x="157" y="95" font-size="33" font-family='"Liberation Sans", sans-serif' fill="#fff" textLength="33" lengthAdjust="spacingAndGlyphs">65</text>
<text x="196" y="79" font-size="12.5" font-weight="bold" font-family='"Liberation Sans", sans-serif' fill="#fff">3</text>
</svg>
</body></html>
